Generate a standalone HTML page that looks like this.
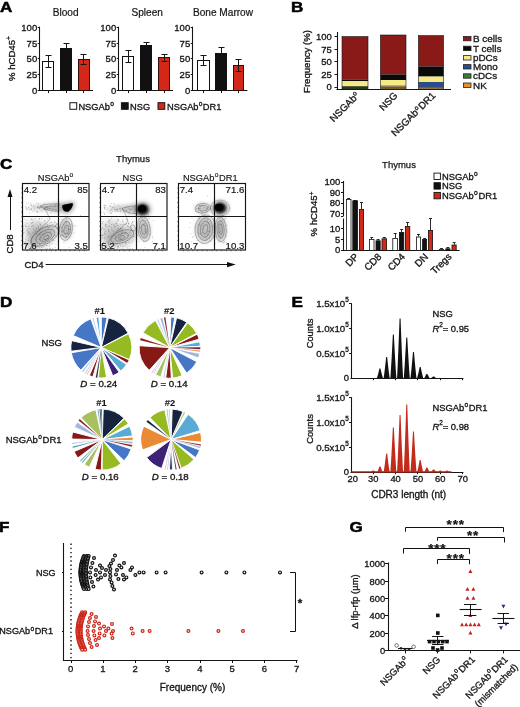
<!DOCTYPE html>
<html><head><meta charset="utf-8"><title>Figure</title>
<style>
html,body{margin:0;padding:0;background:#fff;}
svg{display:block;font-family:"Liberation Sans",Arial,Helvetica,sans-serif;}
</style></head><body>
<svg width="520" height="707" viewBox="0 0 520 707">
<defs>
<filter id="bl05" x="-50%" y="-50%" width="200%" height="200%"><feGaussianBlur stdDeviation="0.6"/></filter>
<filter id="bl1" x="-50%" y="-50%" width="200%" height="200%"><feGaussianBlur stdDeviation="1.1"/></filter>
<filter id="bl2" x="-50%" y="-50%" width="200%" height="200%"><feGaussianBlur stdDeviation="2"/></filter>
<filter id="bl3" x="-50%" y="-50%" width="200%" height="200%"><feGaussianBlur stdDeviation="3.2"/></filter>
</defs>
<rect width="520" height="707" fill="#fff"/>
<text transform="translate(0 12.1) scale(1.17 1)" font-size="14.6" font-weight="bold" fill="#000" stroke="#000" stroke-width="0.5">A</text>
<line x1="39.5" y1="26.7" x2="39.5" y2="91.0" stroke="#151515" stroke-width="1.1"/>
<line x1="39.0" y1="90.5" x2="93" y2="90.5" stroke="#151515" stroke-width="1.1"/>
<line x1="37.7" y1="90.5" x2="39.5" y2="90.5" stroke="#151515" stroke-width="1"/>
<text x="37.2" y="94.0" font-size="9.5" text-anchor="end" font-weight="normal" fill="#151515" stroke="#151515" stroke-width="0.32">0</text>
<line x1="37.7" y1="74.5" x2="39.5" y2="74.5" stroke="#151515" stroke-width="1"/>
<text x="37.2" y="78.175" font-size="9.5" text-anchor="end" font-weight="normal" fill="#151515" stroke="#151515" stroke-width="0.32">25</text>
<line x1="37.7" y1="58.5" x2="39.5" y2="58.5" stroke="#151515" stroke-width="1"/>
<text x="37.2" y="62.349999999999994" font-size="9.5" text-anchor="end" font-weight="normal" fill="#151515" stroke="#151515" stroke-width="0.32">50</text>
<line x1="37.7" y1="43.5" x2="39.5" y2="43.5" stroke="#151515" stroke-width="1"/>
<text x="37.2" y="46.52499999999999" font-size="9.5" text-anchor="end" font-weight="normal" fill="#151515" stroke="#151515" stroke-width="0.32">75</text>
<line x1="37.7" y1="27.5" x2="39.5" y2="27.5" stroke="#151515" stroke-width="1"/>
<text x="37.2" y="30.699999999999996" font-size="9.5" text-anchor="end" font-weight="normal" fill="#151515" stroke="#151515" stroke-width="0.32">100</text>
<text x="65.7" y="16" font-size="10.1" text-anchor="middle" font-weight="normal" fill="#151515" stroke="#151515" stroke-width="0.2">Blood</text>
<line x1="48.5" y1="55.5" x2="48.5" y2="61.5" stroke="#151515" stroke-width="1"/>
<line x1="45.5" y1="55.5" x2="51.5" y2="55.5" stroke="#151515" stroke-width="1"/>
<rect x="42.50" y="61.50" width="11.00" height="29.00" fill="#fff" stroke="#111" stroke-width="1"/>
<line x1="48.5" y1="61.5" x2="48.5" y2="67.5" stroke="#151515" stroke-width="1"/>
<line x1="45.5" y1="67.5" x2="51.5" y2="67.5" stroke="#151515" stroke-width="1"/>
<line x1="48.5" y1="90.5" x2="48.5" y2="93.1" stroke="#151515" stroke-width="1"/>
<line x1="66.5" y1="43.5" x2="66.5" y2="48.5" stroke="#151515" stroke-width="1"/>
<line x1="63.5" y1="43.5" x2="69.5" y2="43.5" stroke="#151515" stroke-width="1"/>
<rect x="60.50" y="48.50" width="11.00" height="42.00" fill="#111" stroke="#111" stroke-width="1"/>
<line x1="66.5" y1="90.5" x2="66.5" y2="93.1" stroke="#151515" stroke-width="1"/>
<line x1="83.5" y1="54.5" x2="83.5" y2="59.5" stroke="#151515" stroke-width="1"/>
<line x1="80.5" y1="54.5" x2="86.5" y2="54.5" stroke="#151515" stroke-width="1"/>
<rect x="78.50" y="59.50" width="11.00" height="31.00" fill="#d32818" stroke="#3a0a06" stroke-width="1"/>
<line x1="83.5" y1="59.5" x2="83.5" y2="64.5" stroke="#151515" stroke-width="1"/>
<line x1="80.5" y1="64.5" x2="86.5" y2="64.5" stroke="#151515" stroke-width="1"/>
<line x1="83.5" y1="90.5" x2="83.5" y2="93.1" stroke="#151515" stroke-width="1"/>
<line x1="118.5" y1="26.7" x2="118.5" y2="91.0" stroke="#151515" stroke-width="1.1"/>
<line x1="118.0" y1="90.5" x2="173" y2="90.5" stroke="#151515" stroke-width="1.1"/>
<line x1="116.7" y1="90.5" x2="118.5" y2="90.5" stroke="#151515" stroke-width="1"/>
<text x="116.2" y="94.0" font-size="9.5" text-anchor="end" font-weight="normal" fill="#151515" stroke="#151515" stroke-width="0.32">0</text>
<line x1="116.7" y1="74.5" x2="118.5" y2="74.5" stroke="#151515" stroke-width="1"/>
<text x="116.2" y="78.175" font-size="9.5" text-anchor="end" font-weight="normal" fill="#151515" stroke="#151515" stroke-width="0.32">25</text>
<line x1="116.7" y1="58.5" x2="118.5" y2="58.5" stroke="#151515" stroke-width="1"/>
<text x="116.2" y="62.349999999999994" font-size="9.5" text-anchor="end" font-weight="normal" fill="#151515" stroke="#151515" stroke-width="0.32">50</text>
<line x1="116.7" y1="43.5" x2="118.5" y2="43.5" stroke="#151515" stroke-width="1"/>
<text x="116.2" y="46.52499999999999" font-size="9.5" text-anchor="end" font-weight="normal" fill="#151515" stroke="#151515" stroke-width="0.32">75</text>
<line x1="116.7" y1="27.5" x2="118.5" y2="27.5" stroke="#151515" stroke-width="1"/>
<text x="116.2" y="30.699999999999996" font-size="9.5" text-anchor="end" font-weight="normal" fill="#151515" stroke="#151515" stroke-width="0.32">100</text>
<text x="147.2" y="16" font-size="10.1" text-anchor="middle" font-weight="normal" fill="#151515" stroke="#151515" stroke-width="0.2">Spleen</text>
<line x1="128.5" y1="50.5" x2="128.5" y2="56.5" stroke="#151515" stroke-width="1"/>
<line x1="125.5" y1="50.5" x2="131.5" y2="50.5" stroke="#151515" stroke-width="1"/>
<rect x="122.50" y="56.50" width="11.00" height="34.00" fill="#fff" stroke="#111" stroke-width="1"/>
<line x1="128.5" y1="56.5" x2="128.5" y2="62.5" stroke="#151515" stroke-width="1"/>
<line x1="125.5" y1="62.5" x2="131.5" y2="62.5" stroke="#151515" stroke-width="1"/>
<line x1="128.5" y1="90.5" x2="128.5" y2="93.1" stroke="#151515" stroke-width="1"/>
<line x1="146.5" y1="42.5" x2="146.5" y2="45.5" stroke="#151515" stroke-width="1"/>
<line x1="143.5" y1="42.5" x2="149.5" y2="42.5" stroke="#151515" stroke-width="1"/>
<rect x="140.50" y="45.50" width="11.00" height="45.00" fill="#111" stroke="#111" stroke-width="1"/>
<line x1="146.5" y1="90.5" x2="146.5" y2="93.1" stroke="#151515" stroke-width="1"/>
<line x1="164.5" y1="54.5" x2="164.5" y2="57.5" stroke="#151515" stroke-width="1"/>
<line x1="161.5" y1="54.5" x2="167.5" y2="54.5" stroke="#151515" stroke-width="1"/>
<rect x="158.50" y="57.50" width="11.00" height="33.00" fill="#d32818" stroke="#3a0a06" stroke-width="1"/>
<line x1="164.5" y1="57.5" x2="164.5" y2="61.5" stroke="#151515" stroke-width="1"/>
<line x1="161.5" y1="61.5" x2="167.5" y2="61.5" stroke="#151515" stroke-width="1"/>
<line x1="164.5" y1="90.5" x2="164.5" y2="93.1" stroke="#151515" stroke-width="1"/>
<line x1="192.5" y1="26.7" x2="192.5" y2="91.0" stroke="#151515" stroke-width="1.1"/>
<line x1="192.0" y1="90.5" x2="247.4" y2="90.5" stroke="#151515" stroke-width="1.1"/>
<line x1="190.7" y1="90.5" x2="192.5" y2="90.5" stroke="#151515" stroke-width="1"/>
<text x="190.2" y="94.0" font-size="9.5" text-anchor="end" font-weight="normal" fill="#151515" stroke="#151515" stroke-width="0.32">0</text>
<line x1="190.7" y1="74.5" x2="192.5" y2="74.5" stroke="#151515" stroke-width="1"/>
<text x="190.2" y="78.175" font-size="9.5" text-anchor="end" font-weight="normal" fill="#151515" stroke="#151515" stroke-width="0.32">25</text>
<line x1="190.7" y1="58.5" x2="192.5" y2="58.5" stroke="#151515" stroke-width="1"/>
<text x="190.2" y="62.349999999999994" font-size="9.5" text-anchor="end" font-weight="normal" fill="#151515" stroke="#151515" stroke-width="0.32">50</text>
<line x1="190.7" y1="43.5" x2="192.5" y2="43.5" stroke="#151515" stroke-width="1"/>
<text x="190.2" y="46.52499999999999" font-size="9.5" text-anchor="end" font-weight="normal" fill="#151515" stroke="#151515" stroke-width="0.32">75</text>
<line x1="190.7" y1="27.5" x2="192.5" y2="27.5" stroke="#151515" stroke-width="1"/>
<text x="190.2" y="30.699999999999996" font-size="9.5" text-anchor="end" font-weight="normal" fill="#151515" stroke="#151515" stroke-width="0.32">100</text>
<text x="223" y="16" font-size="10.1" text-anchor="middle" font-weight="normal" fill="#151515" stroke="#151515" stroke-width="0.2">Bone Marrow</text>
<line x1="203.5" y1="55.5" x2="203.5" y2="60.5" stroke="#151515" stroke-width="1"/>
<line x1="200.5" y1="55.5" x2="206.5" y2="55.5" stroke="#151515" stroke-width="1"/>
<rect x="197.50" y="60.50" width="12.00" height="30.00" fill="#fff" stroke="#111" stroke-width="1"/>
<line x1="203.5" y1="60.5" x2="203.5" y2="65.5" stroke="#151515" stroke-width="1"/>
<line x1="200.5" y1="65.5" x2="206.5" y2="65.5" stroke="#151515" stroke-width="1"/>
<line x1="203.5" y1="90.5" x2="203.5" y2="93.1" stroke="#151515" stroke-width="1"/>
<line x1="221.5" y1="47.5" x2="221.5" y2="53.5" stroke="#151515" stroke-width="1"/>
<line x1="218.5" y1="47.5" x2="224.5" y2="47.5" stroke="#151515" stroke-width="1"/>
<rect x="215.50" y="53.50" width="11.00" height="37.00" fill="#111" stroke="#111" stroke-width="1"/>
<line x1="221.5" y1="90.5" x2="221.5" y2="93.1" stroke="#151515" stroke-width="1"/>
<line x1="238.5" y1="59.5" x2="238.5" y2="65.5" stroke="#151515" stroke-width="1"/>
<line x1="235.5" y1="59.5" x2="241.5" y2="59.5" stroke="#151515" stroke-width="1"/>
<rect x="233.50" y="65.50" width="10.00" height="25.00" fill="#d32818" stroke="#3a0a06" stroke-width="1"/>
<line x1="238.5" y1="65.5" x2="238.5" y2="71.5" stroke="#151515" stroke-width="1"/>
<line x1="235.5" y1="71.5" x2="241.5" y2="71.5" stroke="#151515" stroke-width="1"/>
<line x1="238.5" y1="90.5" x2="238.5" y2="93.1" stroke="#151515" stroke-width="1"/>
<text x="14.8" y="58.5" font-size="9.6" text-anchor="middle" font-weight="normal" fill="#151515" stroke="#151515" stroke-width="0.32" transform="rotate(-90 14.8 58.5)">% hCD45<tspan dy="-3.6" font-size="6.5">+</tspan></text>
<rect x="69.90" y="102.70" width="6.80" height="6.60" fill="#fff" stroke="#151515" stroke-width="1"/>
<text x="78.4" y="109.5" font-size="9.3" text-anchor="start" font-weight="normal" fill="#151515" stroke="#151515" stroke-width="0.32">NSGAb<tspan dx="0.2" dy="-3.6" font-size="6.6">o</tspan><tspan dy="3.6" dx="0.6000000000000001" font-size="0.1"> </tspan></text>
<rect x="121.40" y="102.70" width="6.80" height="6.60" fill="#111" stroke="#151515" stroke-width="1"/>
<text x="130" y="109.5" font-size="9.3" text-anchor="start" font-weight="normal" fill="#151515" stroke="#151515" stroke-width="0.32">NSG</text>
<rect x="158.00" y="102.70" width="6.80" height="6.60" fill="#d32818" stroke="#151515" stroke-width="1"/>
<text x="167" y="109.5" font-size="9.3" text-anchor="start" font-weight="normal" fill="#151515" stroke="#151515" stroke-width="0.32">NSGAb<tspan dx="0.1" dy="-3.6" font-size="6.6">o</tspan><tspan dy="3.6" dx="0.5" font-size="0.1"> </tspan>DR1</text>
<text transform="translate(291 12.1) scale(1.17 1)" font-size="14.6" font-weight="bold" fill="#000" stroke="#000" stroke-width="0.5">B</text>
<line x1="337.5" y1="32" x2="337.5" y2="90.1" stroke="#151515" stroke-width="1.1"/>
<line x1="336.5" y1="89.5" x2="451" y2="89.5" stroke="#151515" stroke-width="1.1"/>
<line x1="334.5" y1="87.5" x2="337" y2="87.5" stroke="#151515" stroke-width="1"/>
<text x="331.8" y="90.4" font-size="9.5" text-anchor="end" font-weight="normal" fill="#151515" stroke="#151515" stroke-width="0.32">0</text>
<line x1="334.5" y1="74.5" x2="337" y2="74.5" stroke="#151515" stroke-width="1"/>
<text x="331.8" y="77.80000000000001" font-size="9.5" text-anchor="end" font-weight="normal" fill="#151515" stroke="#151515" stroke-width="0.32">25</text>
<line x1="334.5" y1="61.5" x2="337" y2="61.5" stroke="#151515" stroke-width="1"/>
<text x="331.8" y="65.2" font-size="9.5" text-anchor="end" font-weight="normal" fill="#151515" stroke="#151515" stroke-width="0.32">50</text>
<line x1="334.5" y1="49.5" x2="337" y2="49.5" stroke="#151515" stroke-width="1"/>
<text x="331.8" y="52.6" font-size="9.5" text-anchor="end" font-weight="normal" fill="#151515" stroke="#151515" stroke-width="0.32">75</text>
<line x1="334.5" y1="36.5" x2="337" y2="36.5" stroke="#151515" stroke-width="1"/>
<text x="331.8" y="40.0" font-size="9.5" text-anchor="end" font-weight="normal" fill="#151515" stroke="#151515" stroke-width="0.32">100</text>
<text x="309.8" y="61.5" font-size="9.6" text-anchor="middle" font-weight="normal" fill="#151515" stroke="#151515" stroke-width="0.32" transform="rotate(-90 309.8 61.5)">Frequency (%)</text>
<rect x="342" y="36.6" width="26.00" height="43.20" fill="#8a1a18"/>
<rect x="342" y="79.8" width="26.00" height="1.40" fill="#0a0a0a"/>
<rect x="342" y="81.2" width="26.00" height="5.00" fill="#f5ea86"/>
<rect x="342" y="86.2" width="26.00" height="3.10" fill="#2c3a1c"/>
<rect x="342.00" y="36.60" width="26.00" height="52.70" fill="none" stroke="#151515" stroke-width="0.6"/>
<rect x="380.4" y="35" width="25.60" height="39.40" fill="#8a1a18"/>
<rect x="380.4" y="74.4" width="25.60" height="5.60" fill="#0a0a0a"/>
<rect x="380.4" y="80" width="25.60" height="5.60" fill="#f5ea86"/>
<rect x="380.4" y="85.6" width="25.60" height="0.80" fill="#2c4c8c"/>
<rect x="380.4" y="86.4" width="25.60" height="2.90" fill="#7a5a1c"/>
<rect x="380.40" y="35.00" width="25.60" height="54.30" fill="none" stroke="#151515" stroke-width="0.6"/>
<rect x="418.4" y="35.6" width="25.20" height="30.80" fill="#8a1a18"/>
<rect x="418.4" y="66.4" width="25.20" height="10.20" fill="#0a0a0a"/>
<rect x="418.4" y="76.6" width="25.20" height="5.40" fill="#f5ea86"/>
<rect x="418.4" y="82" width="25.20" height="5.00" fill="#2c4c8c"/>
<rect x="418.4" y="87" width="25.20" height="1.20" fill="#3c7a40"/>
<rect x="418.4" y="88.2" width="25.20" height="1.10" fill="#7a5a1c"/>
<rect x="418.40" y="35.60" width="25.20" height="53.70" fill="none" stroke="#151515" stroke-width="0.6"/>
<text x="360" y="96.19999999999999" font-size="9.8" text-anchor="end" font-weight="normal" fill="#151515" stroke="#151515" stroke-width="0.32" transform="rotate(-45 360 96.19999999999999)">NSGAb<tspan dx="0.2" dy="-3.6" font-size="6.6">o</tspan><tspan dy="3.6" dx="0.6000000000000001" font-size="0.1"> </tspan></text>
<text x="398.2" y="96.19999999999999" font-size="9.8" text-anchor="end" font-weight="normal" fill="#151515" stroke="#151515" stroke-width="0.32" transform="rotate(-45 398.2 96.19999999999999)">NSG</text>
<text x="436" y="96.19999999999999" font-size="9.8" text-anchor="end" font-weight="normal" fill="#151515" stroke="#151515" stroke-width="0.32" transform="rotate(-45 436 96.19999999999999)">NSGAb<tspan dx="0.3" dy="-3.6" font-size="6.6">o</tspan><tspan dy="3.6" dx="0.7" font-size="0.1"> </tspan>DR1</text>
<rect x="463.40" y="36.40" width="7.60" height="4.40" fill="#8a1a18" stroke="#222" stroke-width="0.8"/>
<text x="473" y="42.0" font-size="9.9" text-anchor="start" font-weight="normal" fill="#151515" stroke="#151515" stroke-width="0.32">B cells</text>
<rect x="463.40" y="46.20" width="7.60" height="4.40" fill="#0a0a0a" stroke="#222" stroke-width="0.8"/>
<text x="473" y="51.8" font-size="9.9" text-anchor="start" font-weight="normal" fill="#151515" stroke="#151515" stroke-width="0.32">T cells</text>
<rect x="463.40" y="55.60" width="7.60" height="4.40" fill="#f5ea86" stroke="#222" stroke-width="0.8"/>
<text x="473" y="61.199999999999996" font-size="9.9" text-anchor="start" font-weight="normal" fill="#151515" stroke="#151515" stroke-width="0.32">pDCs</text>
<rect x="463.40" y="64.60" width="7.60" height="4.40" fill="#2c4c8c" stroke="#222" stroke-width="0.8"/>
<text x="473" y="70.2" font-size="9.9" text-anchor="start" font-weight="normal" fill="#151515" stroke="#151515" stroke-width="0.32">Mono</text>
<rect x="463.40" y="73.80" width="7.60" height="4.40" fill="#3c7a40" stroke="#222" stroke-width="0.8"/>
<text x="473" y="79.4" font-size="9.9" text-anchor="start" font-weight="normal" fill="#151515" stroke="#151515" stroke-width="0.32">cDCs</text>
<rect x="463.40" y="83.00" width="7.60" height="4.40" fill="#e8902c" stroke="#222" stroke-width="0.8"/>
<text x="473" y="88.60000000000001" font-size="9.9" text-anchor="start" font-weight="normal" fill="#151515" stroke="#151515" stroke-width="0.32">NK</text>
<text transform="translate(0 168.5) scale(1.17 1)" font-size="14.6" font-weight="bold" fill="#000" stroke="#000" stroke-width="0.5">C</text>
<text x="133" y="162" font-size="9.5" text-anchor="middle" font-weight="normal" fill="#151515" stroke="#151515" stroke-width="0.25">Thymus</text>
<clipPath id="clip1"><rect x="22.5" y="183.5" width="66.5" height="66.5"/></clipPath>
<g clip-path="url(#clip1)">
<path d="M62 202.5 L25 207.5 L62 212.5 Z" fill="#777" opacity="0.5" filter="url(#bl2)"/>
<ellipse cx="42.0" cy="236.0" rx="17" ry="9.5" fill="#808080" opacity="0.55" filter="url(#bl3)" transform="rotate(-30 42.0 236.0)"/>
<ellipse cx="66.0" cy="229.0" rx="6" ry="11" fill="#808080" opacity="0.5" filter="url(#bl2)" transform="rotate(0 66.0 229.0)"/>
<ellipse cx="35.0" cy="230.0" rx="10" ry="10" fill="#909090" opacity="0.4" filter="url(#bl3)" transform="rotate(0 35.0 230.0)"/>
<path d="M60.5 205 Q61 203.6 64 203.2 L73.6 201.6 Q74.8 202 74.4 205.5 Q73 210.5 69 213 Q65 214 62.2 211.6 Q60 209 60.5 205 Z" fill="#555" opacity="0.55" filter="url(#bl2)"/>
<path d="M62.2 205.6 Q62.6 204.6 64.4 204.4 L72.4 203 Q73.2 203.4 72.8 205.6 Q71.6 209.6 68.6 211.4 Q65.4 212.2 63.6 210.4 Q61.8 208.6 62.2 205.6 Z" fill="#050505" filter="url(#bl05)"/>
<ellipse cx="46.3" cy="237.4" rx="3" ry="1.8" fill="none" stroke="#555" stroke-width="0.5" opacity="0.85" transform="rotate(-30 46.3 237.4)"/>
<ellipse cx="45.8" cy="236.9" rx="6.5" ry="3.6" fill="none" stroke="#555" stroke-width="0.5" opacity="0.85" transform="rotate(-30 45.8 236.9)"/>
<ellipse cx="45.3" cy="236.4" rx="10.5" ry="5.6" fill="none" stroke="#555" stroke-width="0.5" opacity="0.85" transform="rotate(-30 45.3 236.4)"/>
<ellipse cx="44.8" cy="235.9" rx="15" ry="8" fill="none" stroke="#555" stroke-width="0.5" opacity="0.85" transform="rotate(-30 44.8 235.9)"/>
<path d="M60 204 Q48 203 40.5 206 Q45 210.5 58 211.5" fill="none" stroke="#555" stroke-width="0.5" opacity="0.85"/>
<path d="M58 206 Q50 205.4 45.5 207 Q50 209.5 57.5 209.6" fill="none" stroke="#555" stroke-width="0.5" opacity="0.85"/>
<path d="M43.5 206.5 Q47 212 50 219 Q44 226 33 236 Q28 243 34 247" fill="none" stroke="#555" stroke-width="0.5" opacity="0.8"/>
<ellipse cx="66.4" cy="229.8" rx="2.4" ry="4.5" fill="none" stroke="#555" stroke-width="0.5" opacity="0.85" transform="rotate(8 66.4 229.8)"/>
<ellipse cx="66.2" cy="229.5" rx="4.3" ry="8" fill="none" stroke="#555" stroke-width="0.5" opacity="0.85" transform="rotate(8 66.2 229.5)"/>
<ellipse cx="66.0" cy="229.0" rx="6.3" ry="11.5" fill="none" stroke="#555" stroke-width="0.5" opacity="0.85" transform="rotate(8 66.0 229.0)"/>
<ellipse cx="57.5" cy="226.5" rx="1.6" ry="2.6" fill="none" stroke="#444" stroke-width="0.5" opacity="0.7" transform="rotate(-20 57.5 226.5)"/>
<rect x="36.3" y="210.9" width="0.7" height="0.7" fill="#444" opacity="0.55"/>
<rect x="43.8" y="207.8" width="0.7" height="0.7" fill="#444" opacity="0.55"/>
<rect x="26.3" y="207.5" width="0.7" height="0.7" fill="#444" opacity="0.55"/>
<rect x="39.9" y="206.7" width="0.7" height="0.7" fill="#444" opacity="0.55"/>
<rect x="47.0" y="207.8" width="0.7" height="0.7" fill="#444" opacity="0.55"/>
<rect x="59.2" y="210.6" width="0.7" height="0.7" fill="#444" opacity="0.55"/>
<rect x="30.0" y="209.4" width="0.7" height="0.7" fill="#444" opacity="0.55"/>
<rect x="31.3" y="204.7" width="0.7" height="0.7" fill="#444" opacity="0.55"/>
<rect x="44.2" y="208.1" width="0.7" height="0.7" fill="#444" opacity="0.55"/>
<rect x="48.8" y="207.6" width="0.7" height="0.7" fill="#444" opacity="0.55"/>
<rect x="40.9" y="210.7" width="0.7" height="0.7" fill="#444" opacity="0.55"/>
<rect x="33.5" y="205.2" width="0.7" height="0.7" fill="#444" opacity="0.55"/>
<rect x="50.5" y="212.8" width="0.7" height="0.7" fill="#444" opacity="0.55"/>
<rect x="39.6" y="206.3" width="0.7" height="0.7" fill="#444" opacity="0.55"/>
<rect x="26.4" y="203.4" width="0.7" height="0.7" fill="#444" opacity="0.55"/>
<rect x="55.6" y="210.0" width="0.7" height="0.7" fill="#444" opacity="0.55"/>
<rect x="45.3" y="206.8" width="0.7" height="0.7" fill="#444" opacity="0.55"/>
<rect x="41.6" y="206.7" width="0.7" height="0.7" fill="#444" opacity="0.55"/>
<rect x="47.6" y="209.2" width="0.7" height="0.7" fill="#444" opacity="0.55"/>
<rect x="38.5" y="207.0" width="0.7" height="0.7" fill="#444" opacity="0.55"/>
<rect x="30.9" y="208.3" width="0.7" height="0.7" fill="#444" opacity="0.55"/>
<rect x="29.5" y="209.7" width="0.7" height="0.7" fill="#444" opacity="0.55"/>
<rect x="27.8" y="207.2" width="0.7" height="0.7" fill="#444" opacity="0.55"/>
<rect x="53.7" y="206.7" width="0.7" height="0.7" fill="#444" opacity="0.55"/>
<rect x="37.6" y="205.7" width="0.7" height="0.7" fill="#444" opacity="0.55"/>
<rect x="31.2" y="209.2" width="0.7" height="0.7" fill="#444" opacity="0.55"/>
<rect x="45.6" y="207.7" width="0.7" height="0.7" fill="#444" opacity="0.55"/>
<rect x="37.9" y="203.0" width="0.7" height="0.7" fill="#444" opacity="0.55"/>
<rect x="43.0" y="204.2" width="0.7" height="0.7" fill="#444" opacity="0.55"/>
<rect x="56.5" y="203.5" width="0.7" height="0.7" fill="#444" opacity="0.55"/>
<rect x="38.7" y="207.7" width="0.7" height="0.7" fill="#444" opacity="0.55"/>
<rect x="27.2" y="208.7" width="0.7" height="0.7" fill="#444" opacity="0.55"/>
<rect x="36.9" y="207.5" width="0.7" height="0.7" fill="#444" opacity="0.55"/>
<rect x="28.6" y="207.7" width="0.7" height="0.7" fill="#444" opacity="0.55"/>
<rect x="46.5" y="209.3" width="0.7" height="0.7" fill="#444" opacity="0.55"/>
<rect x="37.7" y="211.9" width="0.7" height="0.7" fill="#444" opacity="0.55"/>
<rect x="41.3" y="207.2" width="0.7" height="0.7" fill="#444" opacity="0.55"/>
<rect x="37.0" y="211.4" width="0.7" height="0.7" fill="#444" opacity="0.55"/>
<rect x="25.8" y="207.9" width="0.7" height="0.7" fill="#444" opacity="0.55"/>
<rect x="44.0" y="209.2" width="0.7" height="0.7" fill="#444" opacity="0.55"/>
<rect x="55.2" y="205.6" width="0.7" height="0.7" fill="#444" opacity="0.55"/>
<rect x="30.8" y="205.0" width="0.7" height="0.7" fill="#444" opacity="0.55"/>
<rect x="36.5" y="211.8" width="0.7" height="0.7" fill="#444" opacity="0.55"/>
<rect x="54.8" y="204.3" width="0.7" height="0.7" fill="#444" opacity="0.55"/>
<rect x="32.9" y="206.3" width="0.7" height="0.7" fill="#444" opacity="0.55"/>
<rect x="26.0" y="209.0" width="0.7" height="0.7" fill="#444" opacity="0.55"/>
<rect x="58.5" y="207.0" width="0.7" height="0.7" fill="#444" opacity="0.55"/>
<rect x="58.4" y="208.2" width="0.7" height="0.7" fill="#444" opacity="0.55"/>
<rect x="31.9" y="210.8" width="0.7" height="0.7" fill="#444" opacity="0.55"/>
<rect x="54.4" y="206.5" width="0.7" height="0.7" fill="#444" opacity="0.55"/>
<rect x="28.0" y="202.2" width="0.7" height="0.7" fill="#444" opacity="0.55"/>
<rect x="51.3" y="207.1" width="0.7" height="0.7" fill="#444" opacity="0.55"/>
<rect x="36.6" y="202.8" width="0.7" height="0.7" fill="#444" opacity="0.55"/>
<rect x="39.0" y="207.9" width="0.7" height="0.7" fill="#444" opacity="0.55"/>
<rect x="29.4" y="212.6" width="0.7" height="0.7" fill="#444" opacity="0.55"/>
<rect x="30.1" y="203.3" width="0.7" height="0.7" fill="#444" opacity="0.55"/>
<rect x="37.3" y="206.6" width="0.7" height="0.7" fill="#444" opacity="0.55"/>
<rect x="59.0" y="204.6" width="0.7" height="0.7" fill="#444" opacity="0.55"/>
<rect x="40.2" y="205.8" width="0.7" height="0.7" fill="#444" opacity="0.55"/>
<rect x="33.8" y="208.9" width="0.7" height="0.7" fill="#444" opacity="0.55"/>
<rect x="34.1" y="207.6" width="0.7" height="0.7" fill="#444" opacity="0.55"/>
<rect x="37.4" y="207.0" width="0.7" height="0.7" fill="#444" opacity="0.55"/>
<rect x="39.7" y="207.2" width="0.7" height="0.7" fill="#444" opacity="0.55"/>
<rect x="43.3" y="208.8" width="0.7" height="0.7" fill="#444" opacity="0.55"/>
<rect x="25.1" y="206.4" width="0.7" height="0.7" fill="#444" opacity="0.55"/>
<rect x="50.4" y="206.0" width="0.7" height="0.7" fill="#444" opacity="0.55"/>
<rect x="44.4" y="206.6" width="0.7" height="0.7" fill="#444" opacity="0.55"/>
<rect x="33.7" y="210.9" width="0.7" height="0.7" fill="#444" opacity="0.55"/>
<rect x="44.7" y="202.8" width="0.7" height="0.7" fill="#444" opacity="0.55"/>
<rect x="46.4" y="206.2" width="0.7" height="0.7" fill="#444" opacity="0.55"/>
<rect x="37.9" y="234.5" width="0.7" height="0.7" fill="#444" opacity="0.55"/>
<rect x="38.8" y="247.2" width="0.7" height="0.7" fill="#444" opacity="0.55"/>
<rect x="46.1" y="245.2" width="0.7" height="0.7" fill="#444" opacity="0.55"/>
<rect x="54.1" y="226.0" width="0.7" height="0.7" fill="#444" opacity="0.55"/>
<rect x="41.5" y="247.2" width="0.7" height="0.7" fill="#444" opacity="0.55"/>
<rect x="50.7" y="222.3" width="0.7" height="0.7" fill="#444" opacity="0.55"/>
<rect x="27.0" y="231.7" width="0.7" height="0.7" fill="#444" opacity="0.55"/>
<rect x="25.4" y="225.5" width="0.7" height="0.7" fill="#444" opacity="0.55"/>
<rect x="25.4" y="238.8" width="0.7" height="0.7" fill="#444" opacity="0.55"/>
<rect x="48.9" y="245.8" width="0.7" height="0.7" fill="#444" opacity="0.55"/>
<rect x="28.1" y="240.2" width="0.7" height="0.7" fill="#444" opacity="0.55"/>
<rect x="44.8" y="222.4" width="0.7" height="0.7" fill="#444" opacity="0.55"/>
<rect x="52.1" y="248.0" width="0.7" height="0.7" fill="#444" opacity="0.55"/>
<rect x="30.2" y="247.5" width="0.7" height="0.7" fill="#444" opacity="0.55"/>
<rect x="36.1" y="233.1" width="0.7" height="0.7" fill="#444" opacity="0.55"/>
<rect x="55.7" y="243.8" width="0.7" height="0.7" fill="#444" opacity="0.55"/>
<rect x="28.3" y="231.4" width="0.7" height="0.7" fill="#444" opacity="0.55"/>
<rect x="40.0" y="228.5" width="0.7" height="0.7" fill="#444" opacity="0.55"/>
<rect x="29.5" y="227.9" width="0.7" height="0.7" fill="#444" opacity="0.55"/>
<rect x="46.8" y="218.6" width="0.7" height="0.7" fill="#444" opacity="0.55"/>
<rect x="41.3" y="231.7" width="0.7" height="0.7" fill="#444" opacity="0.55"/>
<rect x="23.6" y="228.3" width="0.7" height="0.7" fill="#444" opacity="0.55"/>
<rect x="43.6" y="233.9" width="0.7" height="0.7" fill="#444" opacity="0.55"/>
<rect x="25.1" y="248.5" width="0.7" height="0.7" fill="#444" opacity="0.55"/>
<rect x="49.0" y="248.1" width="0.7" height="0.7" fill="#444" opacity="0.55"/>
<rect x="26.5" y="226.2" width="0.7" height="0.7" fill="#444" opacity="0.55"/>
<rect x="24.3" y="242.1" width="0.7" height="0.7" fill="#444" opacity="0.55"/>
<rect x="31.9" y="222.0" width="0.7" height="0.7" fill="#444" opacity="0.55"/>
<rect x="36.9" y="246.3" width="0.7" height="0.7" fill="#444" opacity="0.55"/>
<rect x="50.0" y="226.0" width="0.7" height="0.7" fill="#444" opacity="0.55"/>
<rect x="27.9" y="246.5" width="0.7" height="0.7" fill="#444" opacity="0.55"/>
<rect x="41.8" y="239.7" width="0.7" height="0.7" fill="#444" opacity="0.55"/>
<rect x="26.0" y="219.8" width="0.7" height="0.7" fill="#444" opacity="0.55"/>
<rect x="45.7" y="231.2" width="0.7" height="0.7" fill="#444" opacity="0.55"/>
<rect x="25.4" y="247.1" width="0.7" height="0.7" fill="#444" opacity="0.55"/>
<rect x="43.9" y="242.9" width="0.7" height="0.7" fill="#444" opacity="0.55"/>
<rect x="25.8" y="244.5" width="0.7" height="0.7" fill="#444" opacity="0.55"/>
<rect x="25.2" y="244.7" width="0.7" height="0.7" fill="#444" opacity="0.55"/>
<rect x="38.0" y="228.5" width="0.7" height="0.7" fill="#444" opacity="0.55"/>
<rect x="41.3" y="246.7" width="0.7" height="0.7" fill="#444" opacity="0.55"/>
<rect x="31.8" y="222.0" width="0.7" height="0.7" fill="#444" opacity="0.55"/>
<rect x="40.4" y="225.4" width="0.7" height="0.7" fill="#444" opacity="0.55"/>
<rect x="26.6" y="223.0" width="0.7" height="0.7" fill="#444" opacity="0.55"/>
<rect x="24.7" y="224.3" width="0.7" height="0.7" fill="#444" opacity="0.55"/>
<rect x="33.3" y="227.5" width="0.7" height="0.7" fill="#444" opacity="0.55"/>
<rect x="48.1" y="227.0" width="0.7" height="0.7" fill="#444" opacity="0.55"/>
<rect x="39.5" y="223.5" width="0.7" height="0.7" fill="#444" opacity="0.55"/>
<rect x="34.5" y="218.6" width="0.7" height="0.7" fill="#444" opacity="0.55"/>
<rect x="31.3" y="218.5" width="0.7" height="0.7" fill="#444" opacity="0.55"/>
<rect x="47.2" y="235.1" width="0.7" height="0.7" fill="#444" opacity="0.55"/>
<rect x="29.3" y="232.7" width="0.7" height="0.7" fill="#444" opacity="0.55"/>
<rect x="53.8" y="221.3" width="0.7" height="0.7" fill="#444" opacity="0.55"/>
<rect x="50.0" y="231.4" width="0.7" height="0.7" fill="#444" opacity="0.55"/>
<rect x="39.3" y="243.9" width="0.7" height="0.7" fill="#444" opacity="0.55"/>
<rect x="36.0" y="233.7" width="0.7" height="0.7" fill="#444" opacity="0.55"/>
<rect x="45.7" y="248.5" width="0.7" height="0.7" fill="#444" opacity="0.55"/>
<rect x="34.3" y="243.8" width="0.7" height="0.7" fill="#444" opacity="0.55"/>
<rect x="46.3" y="237.7" width="0.7" height="0.7" fill="#444" opacity="0.55"/>
<rect x="36.4" y="228.8" width="0.7" height="0.7" fill="#444" opacity="0.55"/>
<rect x="24.8" y="222.0" width="0.7" height="0.7" fill="#444" opacity="0.55"/>
<rect x="25.3" y="241.0" width="0.7" height="0.7" fill="#444" opacity="0.55"/>
<rect x="31.4" y="223.1" width="0.7" height="0.7" fill="#444" opacity="0.55"/>
<rect x="25.8" y="244.1" width="0.7" height="0.7" fill="#444" opacity="0.55"/>
<rect x="51.7" y="238.8" width="0.7" height="0.7" fill="#444" opacity="0.55"/>
<rect x="32.3" y="225.5" width="0.7" height="0.7" fill="#444" opacity="0.55"/>
<rect x="32.7" y="232.2" width="0.7" height="0.7" fill="#444" opacity="0.55"/>
<rect x="28.2" y="231.8" width="0.7" height="0.7" fill="#444" opacity="0.55"/>
<rect x="31.7" y="247.8" width="0.7" height="0.7" fill="#444" opacity="0.55"/>
<rect x="55.1" y="235.0" width="0.7" height="0.7" fill="#444" opacity="0.55"/>
<rect x="31.1" y="247.9" width="0.7" height="0.7" fill="#444" opacity="0.55"/>
<rect x="33.2" y="229.1" width="0.7" height="0.7" fill="#444" opacity="0.55"/>
<rect x="23.0" y="229.8" width="0.7" height="0.7" fill="#444" opacity="0.55"/>
<rect x="38.7" y="233.6" width="0.7" height="0.7" fill="#444" opacity="0.55"/>
<rect x="29.6" y="233.6" width="0.7" height="0.7" fill="#444" opacity="0.55"/>
<rect x="23.2" y="226.2" width="0.7" height="0.7" fill="#444" opacity="0.55"/>
<rect x="26.0" y="230.4" width="0.7" height="0.7" fill="#444" opacity="0.55"/>
<rect x="24.4" y="218.7" width="0.7" height="0.7" fill="#444" opacity="0.55"/>
<rect x="33.0" y="225.2" width="0.7" height="0.7" fill="#444" opacity="0.55"/>
<rect x="42.3" y="234.4" width="0.7" height="0.7" fill="#444" opacity="0.55"/>
<rect x="47.8" y="238.4" width="0.7" height="0.7" fill="#444" opacity="0.55"/>
<rect x="46.6" y="245.3" width="0.7" height="0.7" fill="#444" opacity="0.55"/>
<rect x="35.9" y="228.1" width="0.7" height="0.7" fill="#444" opacity="0.55"/>
<rect x="55.5" y="222.6" width="0.7" height="0.7" fill="#444" opacity="0.55"/>
<rect x="46.9" y="237.9" width="0.7" height="0.7" fill="#444" opacity="0.55"/>
<rect x="24.4" y="243.9" width="0.7" height="0.7" fill="#444" opacity="0.55"/>
<rect x="52.4" y="237.4" width="0.7" height="0.7" fill="#444" opacity="0.55"/>
<rect x="47.2" y="243.2" width="0.7" height="0.7" fill="#444" opacity="0.55"/>
<rect x="27.6" y="234.2" width="0.7" height="0.7" fill="#444" opacity="0.55"/>
<rect x="39.6" y="243.9" width="0.7" height="0.7" fill="#444" opacity="0.55"/>
<rect x="49.6" y="243.6" width="0.7" height="0.7" fill="#444" opacity="0.55"/>
<rect x="42.3" y="245.7" width="0.7" height="0.7" fill="#444" opacity="0.55"/>
<rect x="45.5" y="239.5" width="0.7" height="0.7" fill="#444" opacity="0.55"/>
<rect x="30.6" y="219.0" width="0.7" height="0.7" fill="#444" opacity="0.55"/>
<rect x="27.4" y="229.2" width="0.7" height="0.7" fill="#444" opacity="0.55"/>
<rect x="26.5" y="243.9" width="0.7" height="0.7" fill="#444" opacity="0.55"/>
<rect x="41.4" y="237.5" width="0.7" height="0.7" fill="#444" opacity="0.55"/>
<rect x="43.7" y="239.1" width="0.7" height="0.7" fill="#444" opacity="0.55"/>
<rect x="39.1" y="218.1" width="0.7" height="0.7" fill="#444" opacity="0.55"/>
<rect x="49.3" y="241.2" width="0.7" height="0.7" fill="#444" opacity="0.55"/>
<rect x="39.6" y="234.6" width="0.7" height="0.7" fill="#444" opacity="0.55"/>
<rect x="44.8" y="220.0" width="0.7" height="0.7" fill="#444" opacity="0.55"/>
<rect x="47.3" y="225.8" width="0.7" height="0.7" fill="#444" opacity="0.55"/>
<rect x="25.5" y="226.2" width="0.7" height="0.7" fill="#444" opacity="0.55"/>
<rect x="47.1" y="224.4" width="0.7" height="0.7" fill="#444" opacity="0.55"/>
<rect x="47.4" y="248.2" width="0.7" height="0.7" fill="#444" opacity="0.55"/>
<rect x="39.3" y="229.9" width="0.7" height="0.7" fill="#444" opacity="0.55"/>
<rect x="38.8" y="239.2" width="0.7" height="0.7" fill="#444" opacity="0.55"/>
<rect x="48.3" y="237.1" width="0.7" height="0.7" fill="#444" opacity="0.55"/>
<rect x="44.2" y="220.4" width="0.7" height="0.7" fill="#444" opacity="0.55"/>
<rect x="27.9" y="225.9" width="0.7" height="0.7" fill="#444" opacity="0.55"/>
<rect x="47.5" y="227.4" width="0.7" height="0.7" fill="#444" opacity="0.55"/>
<rect x="41.7" y="218.4" width="0.7" height="0.7" fill="#444" opacity="0.55"/>
<rect x="25.0" y="226.3" width="0.7" height="0.7" fill="#444" opacity="0.55"/>
<rect x="45.2" y="239.5" width="0.7" height="0.7" fill="#444" opacity="0.55"/>
<rect x="45.3" y="227.0" width="0.7" height="0.7" fill="#444" opacity="0.55"/>
<rect x="40.0" y="232.4" width="0.7" height="0.7" fill="#444" opacity="0.55"/>
<rect x="38.4" y="221.7" width="0.7" height="0.7" fill="#444" opacity="0.55"/>
<rect x="52.5" y="224.2" width="0.7" height="0.7" fill="#444" opacity="0.55"/>
<rect x="55.3" y="247.0" width="0.7" height="0.7" fill="#444" opacity="0.55"/>
<rect x="23.6" y="232.2" width="0.7" height="0.7" fill="#444" opacity="0.55"/>
<rect x="50.1" y="248.0" width="0.7" height="0.7" fill="#444" opacity="0.55"/>
<rect x="37.8" y="226.3" width="0.7" height="0.7" fill="#444" opacity="0.55"/>
<rect x="29.9" y="247.3" width="0.7" height="0.7" fill="#444" opacity="0.55"/>
<rect x="30.0" y="236.0" width="0.7" height="0.7" fill="#444" opacity="0.55"/>
<rect x="27.7" y="234.2" width="0.7" height="0.7" fill="#444" opacity="0.55"/>
<rect x="54.4" y="222.1" width="0.7" height="0.7" fill="#444" opacity="0.55"/>
<rect x="50.1" y="233.8" width="0.7" height="0.7" fill="#444" opacity="0.55"/>
<rect x="52.3" y="239.8" width="0.7" height="0.7" fill="#444" opacity="0.55"/>
<rect x="30.6" y="245.8" width="0.7" height="0.7" fill="#444" opacity="0.55"/>
<rect x="39.0" y="218.8" width="0.7" height="0.7" fill="#444" opacity="0.55"/>
<rect x="23.1" y="233.2" width="0.7" height="0.7" fill="#444" opacity="0.55"/>
<rect x="37.9" y="227.4" width="0.7" height="0.7" fill="#444" opacity="0.55"/>
<rect x="27.6" y="228.7" width="0.7" height="0.7" fill="#444" opacity="0.55"/>
<rect x="33.4" y="244.0" width="0.7" height="0.7" fill="#444" opacity="0.55"/>
<rect x="23.1" y="241.3" width="0.7" height="0.7" fill="#444" opacity="0.55"/>
<rect x="50.7" y="221.7" width="0.7" height="0.7" fill="#444" opacity="0.55"/>
<rect x="53.6" y="240.1" width="0.7" height="0.7" fill="#444" opacity="0.55"/>
<rect x="52.8" y="227.0" width="0.7" height="0.7" fill="#444" opacity="0.55"/>
<rect x="35.3" y="230.2" width="0.7" height="0.7" fill="#444" opacity="0.55"/>
<rect x="56.0" y="236.3" width="0.7" height="0.7" fill="#444" opacity="0.55"/>
<rect x="34.9" y="231.3" width="0.7" height="0.7" fill="#444" opacity="0.55"/>
<rect x="32.1" y="219.5" width="0.7" height="0.7" fill="#444" opacity="0.55"/>
<rect x="26.4" y="243.9" width="0.7" height="0.7" fill="#444" opacity="0.55"/>
<rect x="32.4" y="247.0" width="0.7" height="0.7" fill="#444" opacity="0.55"/>
<rect x="31.2" y="226.2" width="0.7" height="0.7" fill="#444" opacity="0.55"/>
<rect x="39.9" y="223.9" width="0.7" height="0.7" fill="#444" opacity="0.55"/>
<rect x="35.3" y="247.6" width="0.7" height="0.7" fill="#444" opacity="0.55"/>
<rect x="52.2" y="243.2" width="0.7" height="0.7" fill="#444" opacity="0.55"/>
<rect x="43.8" y="246.3" width="0.7" height="0.7" fill="#444" opacity="0.55"/>
<rect x="54.0" y="235.0" width="0.7" height="0.7" fill="#444" opacity="0.55"/>
<rect x="65.7" y="227.5" width="0.7" height="0.7" fill="#444" opacity="0.55"/>
<rect x="65.4" y="221.3" width="0.7" height="0.7" fill="#444" opacity="0.55"/>
<rect x="66.1" y="218.5" width="0.7" height="0.7" fill="#444" opacity="0.55"/>
<rect x="65.6" y="232.5" width="0.7" height="0.7" fill="#444" opacity="0.55"/>
<rect x="68.3" y="228.1" width="0.7" height="0.7" fill="#444" opacity="0.55"/>
<rect x="61.5" y="231.3" width="0.7" height="0.7" fill="#444" opacity="0.55"/>
<rect x="63.6" y="242.5" width="0.7" height="0.7" fill="#444" opacity="0.55"/>
<rect x="69.8" y="229.1" width="0.7" height="0.7" fill="#444" opacity="0.55"/>
<rect x="63.6" y="224.4" width="0.7" height="0.7" fill="#444" opacity="0.55"/>
<rect x="61.3" y="227.2" width="0.7" height="0.7" fill="#444" opacity="0.55"/>
<rect x="67.5" y="234.1" width="0.7" height="0.7" fill="#444" opacity="0.55"/>
<rect x="68.8" y="246.8" width="0.7" height="0.7" fill="#444" opacity="0.55"/>
<rect x="62.5" y="230.1" width="0.7" height="0.7" fill="#444" opacity="0.55"/>
<rect x="80.0" y="215.1" width="0.7" height="0.7" fill="#444" opacity="0.55"/>
<rect x="63.4" y="231.4" width="0.7" height="0.7" fill="#444" opacity="0.55"/>
<rect x="66.8" y="233.3" width="0.7" height="0.7" fill="#444" opacity="0.55"/>
<rect x="64.8" y="232.9" width="0.7" height="0.7" fill="#444" opacity="0.55"/>
<rect x="66.3" y="236.2" width="0.7" height="0.7" fill="#444" opacity="0.55"/>
<rect x="56.5" y="222.9" width="0.7" height="0.7" fill="#444" opacity="0.55"/>
<rect x="66.0" y="221.7" width="0.7" height="0.7" fill="#444" opacity="0.55"/>
<rect x="60.8" y="235.0" width="0.7" height="0.7" fill="#444" opacity="0.55"/>
<rect x="62.8" y="235.1" width="0.7" height="0.7" fill="#444" opacity="0.55"/>
<rect x="69.7" y="232.5" width="0.7" height="0.7" fill="#444" opacity="0.55"/>
<rect x="68.5" y="229.2" width="0.7" height="0.7" fill="#444" opacity="0.55"/>
<rect x="59.0" y="229.8" width="0.7" height="0.7" fill="#444" opacity="0.55"/>
<rect x="68.3" y="225.8" width="0.7" height="0.7" fill="#444" opacity="0.55"/>
<rect x="65.5" y="236.0" width="0.7" height="0.7" fill="#444" opacity="0.55"/>
<rect x="61.6" y="235.1" width="0.7" height="0.7" fill="#444" opacity="0.55"/>
<rect x="75.3" y="225.6" width="0.7" height="0.7" fill="#444" opacity="0.55"/>
<rect x="66.7" y="228.8" width="0.7" height="0.7" fill="#444" opacity="0.55"/>
<rect x="73.7" y="232.5" width="0.7" height="0.7" fill="#444" opacity="0.55"/>
<rect x="70.5" y="224.5" width="0.7" height="0.7" fill="#444" opacity="0.55"/>
<rect x="65.9" y="229.9" width="0.7" height="0.7" fill="#444" opacity="0.55"/>
<rect x="57.1" y="241.5" width="0.7" height="0.7" fill="#444" opacity="0.55"/>
<rect x="70.5" y="216.0" width="0.7" height="0.7" fill="#444" opacity="0.55"/>
<rect x="69.7" y="229.0" width="0.7" height="0.7" fill="#444" opacity="0.55"/>
<rect x="68.2" y="232.9" width="0.7" height="0.7" fill="#444" opacity="0.55"/>
<rect x="58.5" y="228.3" width="0.7" height="0.7" fill="#444" opacity="0.55"/>
<rect x="73.5" y="225.4" width="0.7" height="0.7" fill="#444" opacity="0.55"/>
<rect x="60.9" y="219.1" width="0.7" height="0.7" fill="#444" opacity="0.55"/>
</g>
<rect x="22.50" y="183.50" width="66.50" height="66.50" fill="none" stroke="#151515" stroke-width="1.15"/>
<line x1="58.5" y1="183.5" x2="58.5" y2="250" stroke="#151515" stroke-width="1.15"/>
<line x1="22.5" y1="216.5" x2="89" y2="216.5" stroke="#151515" stroke-width="1.15"/>
<line x1="21.2" y1="188.25" x2="22.5" y2="188.25" stroke="#151515" stroke-width="0.5"/>
<line x1="27.25" y1="250" x2="27.25" y2="251.3" stroke="#151515" stroke-width="0.5"/>
<line x1="21.2" y1="193.0" x2="22.5" y2="193.0" stroke="#151515" stroke-width="0.5"/>
<line x1="32.0" y1="250" x2="32.0" y2="251.3" stroke="#151515" stroke-width="0.5"/>
<line x1="21.2" y1="197.75" x2="22.5" y2="197.75" stroke="#151515" stroke-width="0.5"/>
<line x1="36.75" y1="250" x2="36.75" y2="251.3" stroke="#151515" stroke-width="0.5"/>
<line x1="21.2" y1="202.5" x2="22.5" y2="202.5" stroke="#151515" stroke-width="0.5"/>
<line x1="41.5" y1="250" x2="41.5" y2="251.3" stroke="#151515" stroke-width="0.5"/>
<line x1="21.2" y1="207.25" x2="22.5" y2="207.25" stroke="#151515" stroke-width="0.5"/>
<line x1="46.25" y1="250" x2="46.25" y2="251.3" stroke="#151515" stroke-width="0.5"/>
<line x1="21.2" y1="212.0" x2="22.5" y2="212.0" stroke="#151515" stroke-width="0.5"/>
<line x1="51.0" y1="250" x2="51.0" y2="251.3" stroke="#151515" stroke-width="0.5"/>
<line x1="21.2" y1="216.75" x2="22.5" y2="216.75" stroke="#151515" stroke-width="0.5"/>
<line x1="55.75" y1="250" x2="55.75" y2="251.3" stroke="#151515" stroke-width="0.5"/>
<line x1="21.2" y1="221.5" x2="22.5" y2="221.5" stroke="#151515" stroke-width="0.5"/>
<line x1="60.5" y1="250" x2="60.5" y2="251.3" stroke="#151515" stroke-width="0.5"/>
<line x1="21.2" y1="226.25" x2="22.5" y2="226.25" stroke="#151515" stroke-width="0.5"/>
<line x1="65.25" y1="250" x2="65.25" y2="251.3" stroke="#151515" stroke-width="0.5"/>
<line x1="21.2" y1="231.0" x2="22.5" y2="231.0" stroke="#151515" stroke-width="0.5"/>
<line x1="70.0" y1="250" x2="70.0" y2="251.3" stroke="#151515" stroke-width="0.5"/>
<line x1="21.2" y1="235.75" x2="22.5" y2="235.75" stroke="#151515" stroke-width="0.5"/>
<line x1="74.75" y1="250" x2="74.75" y2="251.3" stroke="#151515" stroke-width="0.5"/>
<line x1="21.2" y1="240.5" x2="22.5" y2="240.5" stroke="#151515" stroke-width="0.5"/>
<line x1="79.5" y1="250" x2="79.5" y2="251.3" stroke="#151515" stroke-width="0.5"/>
<line x1="21.2" y1="245.25" x2="22.5" y2="245.25" stroke="#151515" stroke-width="0.5"/>
<line x1="84.25" y1="250" x2="84.25" y2="251.3" stroke="#151515" stroke-width="0.5"/>
<text x="55.5" y="181" font-size="9.3" text-anchor="middle" font-weight="normal" fill="#151515" stroke="#151515" stroke-width="0.15">NSGAb<tspan dx="0.2" dy="-3.6" font-size="6.6">o</tspan><tspan dy="3.6" dx="0.6000000000000001" font-size="0.1"> </tspan></text>
<text x="23.7" y="192.8" font-size="9.6" text-anchor="start" font-weight="normal" fill="#151515" stroke="#151515" stroke-width="0.2">4.2</text>
<text x="87.8" y="192.8" font-size="9.6" text-anchor="end" font-weight="normal" fill="#151515" stroke="#151515" stroke-width="0.2">85</text>
<text x="23.3" y="248.6" font-size="9.6" text-anchor="start" font-weight="normal" fill="#151515" stroke="#151515" stroke-width="0.2">7.6</text>
<text x="87.8" y="248.6" font-size="9.6" text-anchor="end" font-weight="normal" fill="#151515" stroke="#151515" stroke-width="0.2">3.5</text>
<clipPath id="clip2"><rect x="100.5" y="183.5" width="66.5" height="66.5"/></clipPath>
<g clip-path="url(#clip2)">
<path d="M139 204 L103 208 L139 214 Z" fill="#777" opacity="0.5" filter="url(#bl2)"/>
<ellipse cx="120.0" cy="237.0" rx="18" ry="9" fill="#808080" opacity="0.5" filter="url(#bl3)" transform="rotate(-18 120.0 237.0)"/>
<ellipse cx="112.0" cy="230.0" rx="11" ry="10" fill="#909090" opacity="0.4" filter="url(#bl3)" transform="rotate(0 112.0 230.0)"/>
<ellipse cx="144.0" cy="229.0" rx="6" ry="11.5" fill="#808080" opacity="0.5" filter="url(#bl2)" transform="rotate(-6 144.0 229.0)"/>
<ellipse cx="142.6" cy="209.4" rx="8.5" ry="7.5" fill="#555" opacity="0.5" filter="url(#bl2)" transform="rotate(0 142.6 209.4)"/>
<ellipse cx="142.6" cy="209.4" rx="6" ry="5.6" fill="#1a1a1a" opacity="0.95" filter="url(#bl1)" transform="rotate(0 142.6 209.4)"/>
<ellipse cx="142.1" cy="208.8" rx="4.2" ry="3.8" fill="#000" opacity="1" filter="url(#bl05)" transform="rotate(0 142.1 208.8)"/>
<ellipse cx="121.5" cy="237.6" rx="3.2" ry="1.8" fill="none" stroke="#555" stroke-width="0.5" opacity="0.85" transform="rotate(-22 121.5 237.6)"/>
<ellipse cx="121.9" cy="237.1" rx="7" ry="3.4" fill="none" stroke="#555" stroke-width="0.5" opacity="0.85" transform="rotate(-22 121.9 237.1)"/>
<ellipse cx="122.3" cy="236.6" rx="12" ry="5.8" fill="none" stroke="#555" stroke-width="0.5" opacity="0.85" transform="rotate(-22 122.3 236.6)"/>
<path d="M137 206 Q128 205.5 122 208.5 Q126 213.5 136 213.6" fill="none" stroke="#555" stroke-width="0.5" opacity="0.85"/>
<path d="M122 208.5 Q126 214 128 221 Q122 228 112 236 Q106 243 110 248" fill="none" stroke="#555" stroke-width="0.5" opacity="0.8"/>
<ellipse cx="143.7" cy="229.5" rx="2.2" ry="5" fill="none" stroke="#555" stroke-width="0.5" opacity="0.85" transform="rotate(-8 143.7 229.5)"/>
<ellipse cx="143.7" cy="229.2" rx="4.2" ry="9" fill="none" stroke="#555" stroke-width="0.5" opacity="0.85" transform="rotate(-8 143.7 229.2)"/>
<ellipse cx="144.0" cy="229.0" rx="6.2" ry="12.5" fill="none" stroke="#555" stroke-width="0.5" opacity="0.85" transform="rotate(-8 144.0 229.0)"/>
<ellipse cx="133.0" cy="228.0" rx="2.2" ry="3.4" fill="none" stroke="#555" stroke-width="0.5" opacity="0.85" transform="rotate(-25 133.0 228.0)"/>
<rect x="119.0" y="208.4" width="0.7" height="0.7" fill="#444" opacity="0.55"/>
<rect x="130.4" y="208.8" width="0.7" height="0.7" fill="#444" opacity="0.55"/>
<rect x="111.1" y="212.0" width="0.7" height="0.7" fill="#444" opacity="0.55"/>
<rect x="113.6" y="207.3" width="0.7" height="0.7" fill="#444" opacity="0.55"/>
<rect x="107.5" y="209.0" width="0.7" height="0.7" fill="#444" opacity="0.55"/>
<rect x="127.5" y="212.4" width="0.7" height="0.7" fill="#444" opacity="0.55"/>
<rect x="106.9" y="211.6" width="0.7" height="0.7" fill="#444" opacity="0.55"/>
<rect x="123.4" y="210.3" width="0.7" height="0.7" fill="#444" opacity="0.55"/>
<rect x="116.6" y="209.5" width="0.7" height="0.7" fill="#444" opacity="0.55"/>
<rect x="103.4" y="212.2" width="0.7" height="0.7" fill="#444" opacity="0.55"/>
<rect x="113.6" y="203.1" width="0.7" height="0.7" fill="#444" opacity="0.55"/>
<rect x="125.6" y="210.5" width="0.7" height="0.7" fill="#444" opacity="0.55"/>
<rect x="133.9" y="207.3" width="0.7" height="0.7" fill="#444" opacity="0.55"/>
<rect x="111.6" y="209.3" width="0.7" height="0.7" fill="#444" opacity="0.55"/>
<rect x="136.6" y="208.4" width="0.7" height="0.7" fill="#444" opacity="0.55"/>
<rect x="103.8" y="207.0" width="0.7" height="0.7" fill="#444" opacity="0.55"/>
<rect x="120.4" y="207.9" width="0.7" height="0.7" fill="#444" opacity="0.55"/>
<rect x="112.0" y="206.8" width="0.7" height="0.7" fill="#444" opacity="0.55"/>
<rect x="126.4" y="210.5" width="0.7" height="0.7" fill="#444" opacity="0.55"/>
<rect x="104.2" y="208.2" width="0.7" height="0.7" fill="#444" opacity="0.55"/>
<rect x="114.8" y="205.8" width="0.7" height="0.7" fill="#444" opacity="0.55"/>
<rect x="109.9" y="210.7" width="0.7" height="0.7" fill="#444" opacity="0.55"/>
<rect x="130.9" y="208.8" width="0.7" height="0.7" fill="#444" opacity="0.55"/>
<rect x="110.2" y="206.2" width="0.7" height="0.7" fill="#444" opacity="0.55"/>
<rect x="136.9" y="207.3" width="0.7" height="0.7" fill="#444" opacity="0.55"/>
<rect x="111.1" y="213.1" width="0.7" height="0.7" fill="#444" opacity="0.55"/>
<rect x="110.8" y="209.1" width="0.7" height="0.7" fill="#444" opacity="0.55"/>
<rect x="136.3" y="207.0" width="0.7" height="0.7" fill="#444" opacity="0.55"/>
<rect x="120.4" y="209.7" width="0.7" height="0.7" fill="#444" opacity="0.55"/>
<rect x="117.6" y="210.6" width="0.7" height="0.7" fill="#444" opacity="0.55"/>
<rect x="126.3" y="210.3" width="0.7" height="0.7" fill="#444" opacity="0.55"/>
<rect x="116.8" y="208.6" width="0.7" height="0.7" fill="#444" opacity="0.55"/>
<rect x="110.5" y="210.3" width="0.7" height="0.7" fill="#444" opacity="0.55"/>
<rect x="104.8" y="208.8" width="0.7" height="0.7" fill="#444" opacity="0.55"/>
<rect x="105.1" y="205.0" width="0.7" height="0.7" fill="#444" opacity="0.55"/>
<rect x="133.9" y="212.2" width="0.7" height="0.7" fill="#444" opacity="0.55"/>
<rect x="128.6" y="214.6" width="0.7" height="0.7" fill="#444" opacity="0.55"/>
<rect x="114.5" y="208.9" width="0.7" height="0.7" fill="#444" opacity="0.55"/>
<rect x="109.5" y="212.7" width="0.7" height="0.7" fill="#444" opacity="0.55"/>
<rect x="104.1" y="207.4" width="0.7" height="0.7" fill="#444" opacity="0.55"/>
<rect x="126.3" y="207.3" width="0.7" height="0.7" fill="#444" opacity="0.55"/>
<rect x="114.6" y="210.6" width="0.7" height="0.7" fill="#444" opacity="0.55"/>
<rect x="108.9" y="210.9" width="0.7" height="0.7" fill="#444" opacity="0.55"/>
<rect x="115.3" y="209.0" width="0.7" height="0.7" fill="#444" opacity="0.55"/>
<rect x="136.4" y="213.4" width="0.7" height="0.7" fill="#444" opacity="0.55"/>
<rect x="110.3" y="213.3" width="0.7" height="0.7" fill="#444" opacity="0.55"/>
<rect x="115.5" y="210.9" width="0.7" height="0.7" fill="#444" opacity="0.55"/>
<rect x="118.1" y="205.0" width="0.7" height="0.7" fill="#444" opacity="0.55"/>
<rect x="104.7" y="206.7" width="0.7" height="0.7" fill="#444" opacity="0.55"/>
<rect x="135.2" y="209.4" width="0.7" height="0.7" fill="#444" opacity="0.55"/>
<rect x="109.8" y="205.6" width="0.7" height="0.7" fill="#444" opacity="0.55"/>
<rect x="104.1" y="212.9" width="0.7" height="0.7" fill="#444" opacity="0.55"/>
<rect x="117.4" y="210.6" width="0.7" height="0.7" fill="#444" opacity="0.55"/>
<rect x="104.4" y="205.2" width="0.7" height="0.7" fill="#444" opacity="0.55"/>
<rect x="104.2" y="214.0" width="0.7" height="0.7" fill="#444" opacity="0.55"/>
<rect x="112.0" y="211.1" width="0.7" height="0.7" fill="#444" opacity="0.55"/>
<rect x="129.2" y="210.8" width="0.7" height="0.7" fill="#444" opacity="0.55"/>
<rect x="112.5" y="207.7" width="0.7" height="0.7" fill="#444" opacity="0.55"/>
<rect x="136.5" y="207.6" width="0.7" height="0.7" fill="#444" opacity="0.55"/>
<rect x="128.1" y="207.7" width="0.7" height="0.7" fill="#444" opacity="0.55"/>
<rect x="114.1" y="209.0" width="0.7" height="0.7" fill="#444" opacity="0.55"/>
<rect x="129.4" y="209.2" width="0.7" height="0.7" fill="#444" opacity="0.55"/>
<rect x="135.1" y="205.2" width="0.7" height="0.7" fill="#444" opacity="0.55"/>
<rect x="103.8" y="204.7" width="0.7" height="0.7" fill="#444" opacity="0.55"/>
<rect x="111.2" y="203.1" width="0.7" height="0.7" fill="#444" opacity="0.55"/>
<rect x="136.4" y="209.9" width="0.7" height="0.7" fill="#444" opacity="0.55"/>
<rect x="116.5" y="209.0" width="0.7" height="0.7" fill="#444" opacity="0.55"/>
<rect x="120.3" y="211.5" width="0.7" height="0.7" fill="#444" opacity="0.55"/>
<rect x="135.5" y="210.8" width="0.7" height="0.7" fill="#444" opacity="0.55"/>
<rect x="128.8" y="212.9" width="0.7" height="0.7" fill="#444" opacity="0.55"/>
<rect x="128.2" y="242.0" width="0.7" height="0.7" fill="#444" opacity="0.55"/>
<rect x="121.0" y="228.2" width="0.7" height="0.7" fill="#444" opacity="0.55"/>
<rect x="111.5" y="229.2" width="0.7" height="0.7" fill="#444" opacity="0.55"/>
<rect x="126.8" y="220.4" width="0.7" height="0.7" fill="#444" opacity="0.55"/>
<rect x="107.5" y="241.3" width="0.7" height="0.7" fill="#444" opacity="0.55"/>
<rect x="109.2" y="220.0" width="0.7" height="0.7" fill="#444" opacity="0.55"/>
<rect x="102.1" y="235.1" width="0.7" height="0.7" fill="#444" opacity="0.55"/>
<rect x="111.8" y="248.4" width="0.7" height="0.7" fill="#444" opacity="0.55"/>
<rect x="130.2" y="248.6" width="0.7" height="0.7" fill="#444" opacity="0.55"/>
<rect x="109.7" y="220.6" width="0.7" height="0.7" fill="#444" opacity="0.55"/>
<rect x="104.2" y="233.5" width="0.7" height="0.7" fill="#444" opacity="0.55"/>
<rect x="124.4" y="231.9" width="0.7" height="0.7" fill="#444" opacity="0.55"/>
<rect x="108.7" y="230.9" width="0.7" height="0.7" fill="#444" opacity="0.55"/>
<rect x="121.5" y="238.9" width="0.7" height="0.7" fill="#444" opacity="0.55"/>
<rect x="125.7" y="244.3" width="0.7" height="0.7" fill="#444" opacity="0.55"/>
<rect x="122.9" y="221.8" width="0.7" height="0.7" fill="#444" opacity="0.55"/>
<rect x="128.7" y="227.1" width="0.7" height="0.7" fill="#444" opacity="0.55"/>
<rect x="119.7" y="229.6" width="0.7" height="0.7" fill="#444" opacity="0.55"/>
<rect x="125.4" y="224.2" width="0.7" height="0.7" fill="#444" opacity="0.55"/>
<rect x="109.2" y="225.6" width="0.7" height="0.7" fill="#444" opacity="0.55"/>
<rect x="106.1" y="245.4" width="0.7" height="0.7" fill="#444" opacity="0.55"/>
<rect x="120.1" y="228.1" width="0.7" height="0.7" fill="#444" opacity="0.55"/>
<rect x="114.1" y="248.8" width="0.7" height="0.7" fill="#444" opacity="0.55"/>
<rect x="117.7" y="225.2" width="0.7" height="0.7" fill="#444" opacity="0.55"/>
<rect x="127.7" y="238.3" width="0.7" height="0.7" fill="#444" opacity="0.55"/>
<rect x="133.7" y="221.2" width="0.7" height="0.7" fill="#444" opacity="0.55"/>
<rect x="116.7" y="243.4" width="0.7" height="0.7" fill="#444" opacity="0.55"/>
<rect x="128.7" y="246.3" width="0.7" height="0.7" fill="#444" opacity="0.55"/>
<rect x="102.3" y="227.1" width="0.7" height="0.7" fill="#444" opacity="0.55"/>
<rect x="104.9" y="223.9" width="0.7" height="0.7" fill="#444" opacity="0.55"/>
<rect x="133.1" y="236.1" width="0.7" height="0.7" fill="#444" opacity="0.55"/>
<rect x="131.7" y="229.5" width="0.7" height="0.7" fill="#444" opacity="0.55"/>
<rect x="129.6" y="231.9" width="0.7" height="0.7" fill="#444" opacity="0.55"/>
<rect x="109.6" y="242.1" width="0.7" height="0.7" fill="#444" opacity="0.55"/>
<rect x="132.2" y="221.3" width="0.7" height="0.7" fill="#444" opacity="0.55"/>
<rect x="120.7" y="237.2" width="0.7" height="0.7" fill="#444" opacity="0.55"/>
<rect x="108.2" y="229.4" width="0.7" height="0.7" fill="#444" opacity="0.55"/>
<rect x="105.7" y="224.3" width="0.7" height="0.7" fill="#444" opacity="0.55"/>
<rect x="109.4" y="236.6" width="0.7" height="0.7" fill="#444" opacity="0.55"/>
<rect x="122.5" y="224.3" width="0.7" height="0.7" fill="#444" opacity="0.55"/>
<rect x="101.4" y="228.1" width="0.7" height="0.7" fill="#444" opacity="0.55"/>
<rect x="123.4" y="223.7" width="0.7" height="0.7" fill="#444" opacity="0.55"/>
<rect x="111.3" y="224.3" width="0.7" height="0.7" fill="#444" opacity="0.55"/>
<rect x="127.2" y="235.0" width="0.7" height="0.7" fill="#444" opacity="0.55"/>
<rect x="103.1" y="221.1" width="0.7" height="0.7" fill="#444" opacity="0.55"/>
<rect x="114.0" y="235.1" width="0.7" height="0.7" fill="#444" opacity="0.55"/>
<rect x="122.1" y="220.8" width="0.7" height="0.7" fill="#444" opacity="0.55"/>
<rect x="106.4" y="239.6" width="0.7" height="0.7" fill="#444" opacity="0.55"/>
<rect x="114.5" y="226.8" width="0.7" height="0.7" fill="#444" opacity="0.55"/>
<rect x="111.2" y="247.5" width="0.7" height="0.7" fill="#444" opacity="0.55"/>
<rect x="111.3" y="235.6" width="0.7" height="0.7" fill="#444" opacity="0.55"/>
<rect x="112.8" y="230.9" width="0.7" height="0.7" fill="#444" opacity="0.55"/>
<rect x="129.5" y="248.9" width="0.7" height="0.7" fill="#444" opacity="0.55"/>
<rect x="113.0" y="224.1" width="0.7" height="0.7" fill="#444" opacity="0.55"/>
<rect x="125.0" y="224.3" width="0.7" height="0.7" fill="#444" opacity="0.55"/>
<rect x="101.2" y="246.0" width="0.7" height="0.7" fill="#444" opacity="0.55"/>
<rect x="115.0" y="243.4" width="0.7" height="0.7" fill="#444" opacity="0.55"/>
<rect x="114.4" y="245.4" width="0.7" height="0.7" fill="#444" opacity="0.55"/>
<rect x="116.2" y="223.0" width="0.7" height="0.7" fill="#444" opacity="0.55"/>
<rect x="101.5" y="235.1" width="0.7" height="0.7" fill="#444" opacity="0.55"/>
<rect x="122.1" y="246.2" width="0.7" height="0.7" fill="#444" opacity="0.55"/>
<rect x="103.9" y="237.3" width="0.7" height="0.7" fill="#444" opacity="0.55"/>
<rect x="113.2" y="233.6" width="0.7" height="0.7" fill="#444" opacity="0.55"/>
<rect x="105.8" y="226.8" width="0.7" height="0.7" fill="#444" opacity="0.55"/>
<rect x="118.2" y="246.7" width="0.7" height="0.7" fill="#444" opacity="0.55"/>
<rect x="104.6" y="233.2" width="0.7" height="0.7" fill="#444" opacity="0.55"/>
<rect x="127.6" y="248.0" width="0.7" height="0.7" fill="#444" opacity="0.55"/>
<rect x="107.5" y="221.9" width="0.7" height="0.7" fill="#444" opacity="0.55"/>
<rect x="132.1" y="248.2" width="0.7" height="0.7" fill="#444" opacity="0.55"/>
<rect x="116.9" y="219.7" width="0.7" height="0.7" fill="#444" opacity="0.55"/>
<rect x="131.6" y="230.0" width="0.7" height="0.7" fill="#444" opacity="0.55"/>
<rect x="130.8" y="237.2" width="0.7" height="0.7" fill="#444" opacity="0.55"/>
<rect x="128.2" y="223.0" width="0.7" height="0.7" fill="#444" opacity="0.55"/>
<rect x="126.9" y="224.9" width="0.7" height="0.7" fill="#444" opacity="0.55"/>
<rect x="114.3" y="244.2" width="0.7" height="0.7" fill="#444" opacity="0.55"/>
<rect x="128.4" y="223.7" width="0.7" height="0.7" fill="#444" opacity="0.55"/>
<rect x="108.2" y="230.4" width="0.7" height="0.7" fill="#444" opacity="0.55"/>
<rect x="118.1" y="229.9" width="0.7" height="0.7" fill="#444" opacity="0.55"/>
<rect x="105.1" y="225.7" width="0.7" height="0.7" fill="#444" opacity="0.55"/>
<rect x="124.9" y="245.8" width="0.7" height="0.7" fill="#444" opacity="0.55"/>
<rect x="102.4" y="235.4" width="0.7" height="0.7" fill="#444" opacity="0.55"/>
<rect x="126.0" y="219.2" width="0.7" height="0.7" fill="#444" opacity="0.55"/>
<rect x="128.7" y="221.6" width="0.7" height="0.7" fill="#444" opacity="0.55"/>
<rect x="120.8" y="235.1" width="0.7" height="0.7" fill="#444" opacity="0.55"/>
<rect x="121.7" y="227.5" width="0.7" height="0.7" fill="#444" opacity="0.55"/>
<rect x="114.9" y="236.1" width="0.7" height="0.7" fill="#444" opacity="0.55"/>
<rect x="115.0" y="238.4" width="0.7" height="0.7" fill="#444" opacity="0.55"/>
<rect x="115.7" y="231.6" width="0.7" height="0.7" fill="#444" opacity="0.55"/>
<rect x="101.8" y="237.2" width="0.7" height="0.7" fill="#444" opacity="0.55"/>
<rect x="117.2" y="225.3" width="0.7" height="0.7" fill="#444" opacity="0.55"/>
<rect x="126.2" y="242.2" width="0.7" height="0.7" fill="#444" opacity="0.55"/>
<rect x="116.1" y="223.6" width="0.7" height="0.7" fill="#444" opacity="0.55"/>
<rect x="116.6" y="221.3" width="0.7" height="0.7" fill="#444" opacity="0.55"/>
<rect x="105.2" y="231.3" width="0.7" height="0.7" fill="#444" opacity="0.55"/>
<rect x="104.0" y="231.7" width="0.7" height="0.7" fill="#444" opacity="0.55"/>
<rect x="117.8" y="219.3" width="0.7" height="0.7" fill="#444" opacity="0.55"/>
<rect x="122.0" y="220.5" width="0.7" height="0.7" fill="#444" opacity="0.55"/>
<rect x="125.2" y="242.1" width="0.7" height="0.7" fill="#444" opacity="0.55"/>
<rect x="117.9" y="219.7" width="0.7" height="0.7" fill="#444" opacity="0.55"/>
<rect x="117.6" y="229.7" width="0.7" height="0.7" fill="#444" opacity="0.55"/>
<rect x="132.4" y="222.2" width="0.7" height="0.7" fill="#444" opacity="0.55"/>
<rect x="129.3" y="248.9" width="0.7" height="0.7" fill="#444" opacity="0.55"/>
<rect x="125.2" y="243.3" width="0.7" height="0.7" fill="#444" opacity="0.55"/>
<rect x="107.4" y="248.4" width="0.7" height="0.7" fill="#444" opacity="0.55"/>
<rect x="117.2" y="247.7" width="0.7" height="0.7" fill="#444" opacity="0.55"/>
<rect x="131.2" y="223.1" width="0.7" height="0.7" fill="#444" opacity="0.55"/>
<rect x="127.0" y="246.8" width="0.7" height="0.7" fill="#444" opacity="0.55"/>
<rect x="103.2" y="228.9" width="0.7" height="0.7" fill="#444" opacity="0.55"/>
<rect x="126.0" y="222.9" width="0.7" height="0.7" fill="#444" opacity="0.55"/>
<rect x="130.6" y="226.5" width="0.7" height="0.7" fill="#444" opacity="0.55"/>
<rect x="127.9" y="222.5" width="0.7" height="0.7" fill="#444" opacity="0.55"/>
<rect x="117.6" y="246.5" width="0.7" height="0.7" fill="#444" opacity="0.55"/>
<rect x="107.9" y="226.1" width="0.7" height="0.7" fill="#444" opacity="0.55"/>
<rect x="117.7" y="227.9" width="0.7" height="0.7" fill="#444" opacity="0.55"/>
<rect x="102.2" y="223.6" width="0.7" height="0.7" fill="#444" opacity="0.55"/>
<rect x="106.3" y="247.0" width="0.7" height="0.7" fill="#444" opacity="0.55"/>
<rect x="123.4" y="245.8" width="0.7" height="0.7" fill="#444" opacity="0.55"/>
<rect x="106.6" y="242.3" width="0.7" height="0.7" fill="#444" opacity="0.55"/>
<rect x="104.8" y="234.5" width="0.7" height="0.7" fill="#444" opacity="0.55"/>
<rect x="122.0" y="229.2" width="0.7" height="0.7" fill="#444" opacity="0.55"/>
<rect x="129.8" y="235.2" width="0.7" height="0.7" fill="#444" opacity="0.55"/>
<rect x="120.1" y="245.4" width="0.7" height="0.7" fill="#444" opacity="0.55"/>
<rect x="104.5" y="248.8" width="0.7" height="0.7" fill="#444" opacity="0.55"/>
<rect x="121.8" y="230.2" width="0.7" height="0.7" fill="#444" opacity="0.55"/>
<rect x="127.3" y="226.2" width="0.7" height="0.7" fill="#444" opacity="0.55"/>
<rect x="133.7" y="235.9" width="0.7" height="0.7" fill="#444" opacity="0.55"/>
<rect x="112.9" y="241.7" width="0.7" height="0.7" fill="#444" opacity="0.55"/>
<rect x="115.6" y="223.5" width="0.7" height="0.7" fill="#444" opacity="0.55"/>
<rect x="125.5" y="219.5" width="0.7" height="0.7" fill="#444" opacity="0.55"/>
<rect x="128.1" y="225.9" width="0.7" height="0.7" fill="#444" opacity="0.55"/>
<rect x="122.1" y="248.5" width="0.7" height="0.7" fill="#444" opacity="0.55"/>
<rect x="120.3" y="238.6" width="0.7" height="0.7" fill="#444" opacity="0.55"/>
<rect x="111.3" y="218.1" width="0.7" height="0.7" fill="#444" opacity="0.55"/>
<rect x="102.1" y="222.6" width="0.7" height="0.7" fill="#444" opacity="0.55"/>
<rect x="121.3" y="231.4" width="0.7" height="0.7" fill="#444" opacity="0.55"/>
<rect x="117.9" y="245.8" width="0.7" height="0.7" fill="#444" opacity="0.55"/>
<rect x="105.4" y="225.0" width="0.7" height="0.7" fill="#444" opacity="0.55"/>
<rect x="122.6" y="218.7" width="0.7" height="0.7" fill="#444" opacity="0.55"/>
<rect x="101.1" y="229.0" width="0.7" height="0.7" fill="#444" opacity="0.55"/>
<rect x="104.5" y="229.1" width="0.7" height="0.7" fill="#444" opacity="0.55"/>
<rect x="108.4" y="236.1" width="0.7" height="0.7" fill="#444" opacity="0.55"/>
<rect x="120.4" y="224.3" width="0.7" height="0.7" fill="#444" opacity="0.55"/>
<rect x="121.6" y="232.7" width="0.7" height="0.7" fill="#444" opacity="0.55"/>
<rect x="105.4" y="247.0" width="0.7" height="0.7" fill="#444" opacity="0.55"/>
<rect x="109.0" y="222.6" width="0.7" height="0.7" fill="#444" opacity="0.55"/>
<rect x="104.2" y="237.8" width="0.7" height="0.7" fill="#444" opacity="0.55"/>
<rect x="129.8" y="242.2" width="0.7" height="0.7" fill="#444" opacity="0.55"/>
<rect x="114.3" y="226.2" width="0.7" height="0.7" fill="#444" opacity="0.55"/>
<rect x="101.4" y="238.0" width="0.7" height="0.7" fill="#444" opacity="0.55"/>
<rect x="119.6" y="228.9" width="0.7" height="0.7" fill="#444" opacity="0.55"/>
<rect x="122.3" y="231.8" width="0.7" height="0.7" fill="#444" opacity="0.55"/>
<rect x="131.9" y="240.7" width="0.7" height="0.7" fill="#444" opacity="0.55"/>
<rect x="109.2" y="246.0" width="0.7" height="0.7" fill="#444" opacity="0.55"/>
<rect x="102.5" y="234.5" width="0.7" height="0.7" fill="#444" opacity="0.55"/>
<rect x="114.4" y="225.4" width="0.7" height="0.7" fill="#444" opacity="0.55"/>
<rect x="102.9" y="242.1" width="0.7" height="0.7" fill="#444" opacity="0.55"/>
<rect x="101.4" y="235.1" width="0.7" height="0.7" fill="#444" opacity="0.55"/>
<rect x="132.1" y="222.4" width="0.7" height="0.7" fill="#444" opacity="0.55"/>
<rect x="107.6" y="236.9" width="0.7" height="0.7" fill="#444" opacity="0.55"/>
<rect x="117.7" y="237.9" width="0.7" height="0.7" fill="#444" opacity="0.55"/>
<rect x="127.8" y="223.4" width="0.7" height="0.7" fill="#444" opacity="0.55"/>
<rect x="111.2" y="227.3" width="0.7" height="0.7" fill="#444" opacity="0.55"/>
<rect x="102.6" y="245.6" width="0.7" height="0.7" fill="#444" opacity="0.55"/>
<rect x="126.8" y="240.2" width="0.7" height="0.7" fill="#444" opacity="0.55"/>
<rect x="101.2" y="244.2" width="0.7" height="0.7" fill="#444" opacity="0.55"/>
<rect x="125.6" y="232.4" width="0.7" height="0.7" fill="#444" opacity="0.55"/>
<rect x="125.5" y="232.0" width="0.7" height="0.7" fill="#444" opacity="0.55"/>
<rect x="108.5" y="221.3" width="0.7" height="0.7" fill="#444" opacity="0.55"/>
<rect x="108.7" y="219.2" width="0.7" height="0.7" fill="#444" opacity="0.55"/>
<rect x="112.1" y="241.2" width="0.7" height="0.7" fill="#444" opacity="0.55"/>
<rect x="141.1" y="215.5" width="0.7" height="0.7" fill="#444" opacity="0.55"/>
<rect x="143.2" y="223.9" width="0.7" height="0.7" fill="#444" opacity="0.55"/>
<rect x="139.5" y="227.2" width="0.7" height="0.7" fill="#444" opacity="0.55"/>
<rect x="145.3" y="220.5" width="0.7" height="0.7" fill="#444" opacity="0.55"/>
<rect x="143.4" y="241.4" width="0.7" height="0.7" fill="#444" opacity="0.55"/>
<rect x="147.1" y="228.8" width="0.7" height="0.7" fill="#444" opacity="0.55"/>
<rect x="144.6" y="229.0" width="0.7" height="0.7" fill="#444" opacity="0.55"/>
<rect x="143.8" y="235.9" width="0.7" height="0.7" fill="#444" opacity="0.55"/>
<rect x="143.6" y="210.8" width="0.7" height="0.7" fill="#444" opacity="0.55"/>
<rect x="143.9" y="222.9" width="0.7" height="0.7" fill="#444" opacity="0.55"/>
<rect x="146.9" y="225.1" width="0.7" height="0.7" fill="#444" opacity="0.55"/>
<rect x="144.7" y="247.4" width="0.7" height="0.7" fill="#444" opacity="0.55"/>
<rect x="139.3" y="221.0" width="0.7" height="0.7" fill="#444" opacity="0.55"/>
<rect x="137.6" y="210.8" width="0.7" height="0.7" fill="#444" opacity="0.55"/>
<rect x="135.5" y="232.9" width="0.7" height="0.7" fill="#444" opacity="0.55"/>
<rect x="141.1" y="215.1" width="0.7" height="0.7" fill="#444" opacity="0.55"/>
<rect x="137.3" y="234.9" width="0.7" height="0.7" fill="#444" opacity="0.55"/>
<rect x="140.5" y="227.1" width="0.7" height="0.7" fill="#444" opacity="0.55"/>
<rect x="145.5" y="240.9" width="0.7" height="0.7" fill="#444" opacity="0.55"/>
<rect x="152.7" y="238.3" width="0.7" height="0.7" fill="#444" opacity="0.55"/>
<rect x="144.6" y="231.5" width="0.7" height="0.7" fill="#444" opacity="0.55"/>
<rect x="152.1" y="241.4" width="0.7" height="0.7" fill="#444" opacity="0.55"/>
<rect x="142.6" y="233.7" width="0.7" height="0.7" fill="#444" opacity="0.55"/>
<rect x="145.3" y="230.4" width="0.7" height="0.7" fill="#444" opacity="0.55"/>
<rect x="141.7" y="219.4" width="0.7" height="0.7" fill="#444" opacity="0.55"/>
<rect x="141.6" y="217.6" width="0.7" height="0.7" fill="#444" opacity="0.55"/>
<rect x="149.5" y="234.3" width="0.7" height="0.7" fill="#444" opacity="0.55"/>
<rect x="138.6" y="241.2" width="0.7" height="0.7" fill="#444" opacity="0.55"/>
<rect x="148.0" y="214.7" width="0.7" height="0.7" fill="#444" opacity="0.55"/>
<rect x="152.3" y="236.5" width="0.7" height="0.7" fill="#444" opacity="0.55"/>
<rect x="153.3" y="220.2" width="0.7" height="0.7" fill="#444" opacity="0.55"/>
<rect x="146.4" y="233.4" width="0.7" height="0.7" fill="#444" opacity="0.55"/>
<rect x="144.9" y="231.4" width="0.7" height="0.7" fill="#444" opacity="0.55"/>
<rect x="148.7" y="218.0" width="0.7" height="0.7" fill="#444" opacity="0.55"/>
<rect x="138.4" y="218.8" width="0.7" height="0.7" fill="#444" opacity="0.55"/>
<rect x="141.5" y="225.2" width="0.7" height="0.7" fill="#444" opacity="0.55"/>
<rect x="145.7" y="232.1" width="0.7" height="0.7" fill="#444" opacity="0.55"/>
<rect x="144.1" y="224.6" width="0.7" height="0.7" fill="#444" opacity="0.55"/>
<rect x="142.0" y="237.6" width="0.7" height="0.7" fill="#444" opacity="0.55"/>
<rect x="147.4" y="230.8" width="0.7" height="0.7" fill="#444" opacity="0.55"/>
</g>
<rect x="100.50" y="183.50" width="66.50" height="66.50" fill="none" stroke="#151515" stroke-width="1.15"/>
<line x1="136.5" y1="183.5" x2="136.5" y2="250" stroke="#151515" stroke-width="1.15"/>
<line x1="100.5" y1="216.5" x2="167" y2="216.5" stroke="#151515" stroke-width="1.15"/>
<line x1="99.2" y1="188.25" x2="100.5" y2="188.25" stroke="#151515" stroke-width="0.5"/>
<line x1="105.25" y1="250" x2="105.25" y2="251.3" stroke="#151515" stroke-width="0.5"/>
<line x1="99.2" y1="193.0" x2="100.5" y2="193.0" stroke="#151515" stroke-width="0.5"/>
<line x1="110.0" y1="250" x2="110.0" y2="251.3" stroke="#151515" stroke-width="0.5"/>
<line x1="99.2" y1="197.75" x2="100.5" y2="197.75" stroke="#151515" stroke-width="0.5"/>
<line x1="114.75" y1="250" x2="114.75" y2="251.3" stroke="#151515" stroke-width="0.5"/>
<line x1="99.2" y1="202.5" x2="100.5" y2="202.5" stroke="#151515" stroke-width="0.5"/>
<line x1="119.5" y1="250" x2="119.5" y2="251.3" stroke="#151515" stroke-width="0.5"/>
<line x1="99.2" y1="207.25" x2="100.5" y2="207.25" stroke="#151515" stroke-width="0.5"/>
<line x1="124.25" y1="250" x2="124.25" y2="251.3" stroke="#151515" stroke-width="0.5"/>
<line x1="99.2" y1="212.0" x2="100.5" y2="212.0" stroke="#151515" stroke-width="0.5"/>
<line x1="129.0" y1="250" x2="129.0" y2="251.3" stroke="#151515" stroke-width="0.5"/>
<line x1="99.2" y1="216.75" x2="100.5" y2="216.75" stroke="#151515" stroke-width="0.5"/>
<line x1="133.75" y1="250" x2="133.75" y2="251.3" stroke="#151515" stroke-width="0.5"/>
<line x1="99.2" y1="221.5" x2="100.5" y2="221.5" stroke="#151515" stroke-width="0.5"/>
<line x1="138.5" y1="250" x2="138.5" y2="251.3" stroke="#151515" stroke-width="0.5"/>
<line x1="99.2" y1="226.25" x2="100.5" y2="226.25" stroke="#151515" stroke-width="0.5"/>
<line x1="143.25" y1="250" x2="143.25" y2="251.3" stroke="#151515" stroke-width="0.5"/>
<line x1="99.2" y1="231.0" x2="100.5" y2="231.0" stroke="#151515" stroke-width="0.5"/>
<line x1="148.0" y1="250" x2="148.0" y2="251.3" stroke="#151515" stroke-width="0.5"/>
<line x1="99.2" y1="235.75" x2="100.5" y2="235.75" stroke="#151515" stroke-width="0.5"/>
<line x1="152.75" y1="250" x2="152.75" y2="251.3" stroke="#151515" stroke-width="0.5"/>
<line x1="99.2" y1="240.5" x2="100.5" y2="240.5" stroke="#151515" stroke-width="0.5"/>
<line x1="157.5" y1="250" x2="157.5" y2="251.3" stroke="#151515" stroke-width="0.5"/>
<line x1="99.2" y1="245.25" x2="100.5" y2="245.25" stroke="#151515" stroke-width="0.5"/>
<line x1="162.25" y1="250" x2="162.25" y2="251.3" stroke="#151515" stroke-width="0.5"/>
<text x="132.7" y="181" font-size="9.3" text-anchor="middle" font-weight="normal" fill="#151515" stroke="#151515" stroke-width="0.15">NSG</text>
<text x="101.7" y="192.8" font-size="9.6" text-anchor="start" font-weight="normal" fill="#151515" stroke="#151515" stroke-width="0.2">4.7</text>
<text x="165.8" y="192.8" font-size="9.6" text-anchor="end" font-weight="normal" fill="#151515" stroke="#151515" stroke-width="0.2">83</text>
<text x="101.3" y="248.6" font-size="9.6" text-anchor="start" font-weight="normal" fill="#151515" stroke="#151515" stroke-width="0.2">5.2</text>
<text x="165.8" y="248.6" font-size="9.6" text-anchor="end" font-weight="normal" fill="#151515" stroke="#151515" stroke-width="0.2">7.1</text>
<clipPath id="clip3"><rect x="178.5" y="183.5" width="67.0" height="66.5"/></clipPath>
<g clip-path="url(#clip3)">
<ellipse cx="202.5" cy="208.3" rx="7.5" ry="5" fill="#8a8a8a" opacity="0.5" filter="url(#bl2)" transform="rotate(0 202.5 208.3)"/>
<ellipse cx="205.0" cy="229.0" rx="9.5" ry="13" fill="#808080" opacity="0.5" filter="url(#bl2)" transform="rotate(0 205.0 229.0)"/>
<ellipse cx="220.6" cy="229.0" rx="5" ry="12.5" fill="#666" opacity="0.5" filter="url(#bl2)" transform="rotate(0 220.6 229.0)"/>
<ellipse cx="220.0" cy="208.0" rx="9" ry="7.5" fill="#555" opacity="0.5" filter="url(#bl2)" transform="rotate(0 220.0 208.0)"/>
<ellipse cx="220.0" cy="208.0" rx="6.2" ry="5.4" fill="#1a1a1a" opacity="0.95" filter="url(#bl1)" transform="rotate(0 220.0 208.0)"/>
<ellipse cx="219.2" cy="207.4" rx="4.4" ry="3.6" fill="#000" opacity="1" filter="url(#bl05)" transform="rotate(0 219.2 207.4)"/>
<ellipse cx="205.2" cy="229.2" rx="2.4" ry="4.6" fill="none" stroke="#555" stroke-width="0.5" opacity="0.85" transform="rotate(6 205.2 229.2)"/>
<ellipse cx="205.2" cy="229.2" rx="4.8" ry="8" fill="none" stroke="#555" stroke-width="0.5" opacity="0.85" transform="rotate(6 205.2 229.2)"/>
<ellipse cx="205.2" cy="229.2" rx="7.4" ry="11.4" fill="none" stroke="#555" stroke-width="0.5" opacity="0.85" transform="rotate(6 205.2 229.2)"/>
<ellipse cx="205.2" cy="229.2" rx="10.2" ry="14.4" fill="none" stroke="#555" stroke-width="0.5" opacity="0.85" transform="rotate(6 205.2 229.2)"/>
<ellipse cx="220.6" cy="229.4" rx="1.8" ry="5" fill="none" stroke="#555" stroke-width="0.5" opacity="0.85" transform="rotate(-3 220.6 229.4)"/>
<ellipse cx="220.6" cy="229.4" rx="3.6" ry="8.6" fill="none" stroke="#555" stroke-width="0.5" opacity="0.85" transform="rotate(-3 220.6 229.4)"/>
<ellipse cx="220.6" cy="229.4" rx="5.6" ry="12.4" fill="none" stroke="#555" stroke-width="0.5" opacity="0.85" transform="rotate(-3 220.6 229.4)"/>
<ellipse cx="202.8" cy="208.2" rx="7.6" ry="4.8" fill="none" stroke="#555" stroke-width="0.5" opacity="0.85" transform="rotate(-5 202.8 208.2)"/>
<ellipse cx="203.0" cy="208.2" rx="4.6" ry="2.8" fill="none" stroke="#555" stroke-width="0.5" opacity="0.85" transform="rotate(-5 203.0 208.2)"/>
<ellipse cx="220.0" cy="208.0" rx="9.6" ry="8" fill="none" stroke="#555" stroke-width="0.45" opacity="0.7" transform="rotate(0 220.0 208.0)"/>
<rect x="202.1" y="243.1" width="0.7" height="0.7" fill="#444" opacity="0.55"/>
<rect x="199.7" y="233.1" width="0.7" height="0.7" fill="#444" opacity="0.55"/>
<rect x="215.4" y="223.1" width="0.7" height="0.7" fill="#444" opacity="0.55"/>
<rect x="212.4" y="213.7" width="0.7" height="0.7" fill="#444" opacity="0.55"/>
<rect x="214.1" y="228.2" width="0.7" height="0.7" fill="#444" opacity="0.55"/>
<rect x="190.7" y="233.4" width="0.7" height="0.7" fill="#444" opacity="0.55"/>
<rect x="197.0" y="240.1" width="0.7" height="0.7" fill="#444" opacity="0.55"/>
<rect x="198.9" y="224.2" width="0.7" height="0.7" fill="#444" opacity="0.55"/>
<rect x="207.5" y="222.3" width="0.7" height="0.7" fill="#444" opacity="0.55"/>
<rect x="207.3" y="219.9" width="0.7" height="0.7" fill="#444" opacity="0.55"/>
<rect x="211.0" y="226.1" width="0.7" height="0.7" fill="#444" opacity="0.55"/>
<rect x="206.9" y="195.7" width="0.7" height="0.7" fill="#444" opacity="0.55"/>
<rect x="215.5" y="226.4" width="0.7" height="0.7" fill="#444" opacity="0.55"/>
<rect x="189.0" y="227.1" width="0.7" height="0.7" fill="#444" opacity="0.55"/>
<rect x="209.2" y="237.8" width="0.7" height="0.7" fill="#444" opacity="0.55"/>
<rect x="195.3" y="243.0" width="0.7" height="0.7" fill="#444" opacity="0.55"/>
<rect x="203.6" y="252.3" width="0.7" height="0.7" fill="#444" opacity="0.55"/>
<rect x="203.7" y="233.5" width="0.7" height="0.7" fill="#444" opacity="0.55"/>
<rect x="201.7" y="213.7" width="0.7" height="0.7" fill="#444" opacity="0.55"/>
<rect x="214.9" y="236.0" width="0.7" height="0.7" fill="#444" opacity="0.55"/>
<rect x="218.8" y="235.4" width="0.7" height="0.7" fill="#444" opacity="0.55"/>
<rect x="199.8" y="207.7" width="0.7" height="0.7" fill="#444" opacity="0.55"/>
<rect x="199.1" y="218.6" width="0.7" height="0.7" fill="#444" opacity="0.55"/>
<rect x="197.7" y="232.4" width="0.7" height="0.7" fill="#444" opacity="0.55"/>
<rect x="208.0" y="223.0" width="0.7" height="0.7" fill="#444" opacity="0.55"/>
<rect x="206.6" y="224.4" width="0.7" height="0.7" fill="#444" opacity="0.55"/>
<rect x="206.9" y="234.3" width="0.7" height="0.7" fill="#444" opacity="0.55"/>
<rect x="213.6" y="218.5" width="0.7" height="0.7" fill="#444" opacity="0.55"/>
<rect x="191.4" y="241.7" width="0.7" height="0.7" fill="#444" opacity="0.55"/>
<rect x="206.0" y="238.2" width="0.7" height="0.7" fill="#444" opacity="0.55"/>
<rect x="190.2" y="222.4" width="0.7" height="0.7" fill="#444" opacity="0.55"/>
<rect x="205.2" y="210.1" width="0.7" height="0.7" fill="#444" opacity="0.55"/>
<rect x="200.4" y="234.0" width="0.7" height="0.7" fill="#444" opacity="0.55"/>
<rect x="214.7" y="243.5" width="0.7" height="0.7" fill="#444" opacity="0.55"/>
<rect x="197.2" y="210.6" width="0.7" height="0.7" fill="#444" opacity="0.55"/>
<rect x="209.7" y="236.3" width="0.7" height="0.7" fill="#444" opacity="0.55"/>
<rect x="206.7" y="211.7" width="0.7" height="0.7" fill="#444" opacity="0.55"/>
<rect x="212.0" y="234.7" width="0.7" height="0.7" fill="#444" opacity="0.55"/>
<rect x="210.0" y="220.6" width="0.7" height="0.7" fill="#444" opacity="0.55"/>
<rect x="207.7" y="234.7" width="0.7" height="0.7" fill="#444" opacity="0.55"/>
<rect x="200.0" y="205.7" width="0.7" height="0.7" fill="#444" opacity="0.55"/>
<rect x="208.0" y="231.3" width="0.7" height="0.7" fill="#444" opacity="0.55"/>
<rect x="205.1" y="235.8" width="0.7" height="0.7" fill="#444" opacity="0.55"/>
<rect x="199.7" y="225.1" width="0.7" height="0.7" fill="#444" opacity="0.55"/>
<rect x="202.3" y="232.3" width="0.7" height="0.7" fill="#444" opacity="0.55"/>
<rect x="219.4" y="223.2" width="0.7" height="0.7" fill="#444" opacity="0.55"/>
<rect x="223.5" y="242.8" width="0.7" height="0.7" fill="#444" opacity="0.55"/>
<rect x="212.1" y="232.5" width="0.7" height="0.7" fill="#444" opacity="0.55"/>
<rect x="220.9" y="224.0" width="0.7" height="0.7" fill="#444" opacity="0.55"/>
<rect x="204.0" y="214.3" width="0.7" height="0.7" fill="#444" opacity="0.55"/>
<rect x="209.3" y="240.8" width="0.7" height="0.7" fill="#444" opacity="0.55"/>
<rect x="209.8" y="230.7" width="0.7" height="0.7" fill="#444" opacity="0.55"/>
<rect x="203.2" y="227.9" width="0.7" height="0.7" fill="#444" opacity="0.55"/>
<rect x="192.2" y="237.5" width="0.7" height="0.7" fill="#444" opacity="0.55"/>
<rect x="201.3" y="213.8" width="0.7" height="0.7" fill="#444" opacity="0.55"/>
<rect x="198.2" y="216.9" width="0.7" height="0.7" fill="#444" opacity="0.55"/>
<rect x="212.7" y="237.6" width="0.7" height="0.7" fill="#444" opacity="0.55"/>
<rect x="192.8" y="236.2" width="0.7" height="0.7" fill="#444" opacity="0.55"/>
<rect x="213.0" y="219.6" width="0.7" height="0.7" fill="#444" opacity="0.55"/>
<rect x="191.6" y="217.8" width="0.7" height="0.7" fill="#444" opacity="0.55"/>
<rect x="217.8" y="232.1" width="0.7" height="0.7" fill="#444" opacity="0.55"/>
<rect x="219.2" y="210.7" width="0.7" height="0.7" fill="#444" opacity="0.55"/>
<rect x="222.2" y="215.2" width="0.7" height="0.7" fill="#444" opacity="0.55"/>
<rect x="225.5" y="218.1" width="0.7" height="0.7" fill="#444" opacity="0.55"/>
<rect x="217.5" y="221.3" width="0.7" height="0.7" fill="#444" opacity="0.55"/>
<rect x="218.3" y="240.7" width="0.7" height="0.7" fill="#444" opacity="0.55"/>
<rect x="225.3" y="234.4" width="0.7" height="0.7" fill="#444" opacity="0.55"/>
<rect x="222.6" y="215.1" width="0.7" height="0.7" fill="#444" opacity="0.55"/>
<rect x="218.4" y="224.0" width="0.7" height="0.7" fill="#444" opacity="0.55"/>
<rect x="216.1" y="233.6" width="0.7" height="0.7" fill="#444" opacity="0.55"/>
<rect x="217.3" y="222.6" width="0.7" height="0.7" fill="#444" opacity="0.55"/>
<rect x="215.8" y="210.5" width="0.7" height="0.7" fill="#444" opacity="0.55"/>
<rect x="224.0" y="241.0" width="0.7" height="0.7" fill="#444" opacity="0.55"/>
<rect x="221.9" y="220.2" width="0.7" height="0.7" fill="#444" opacity="0.55"/>
<rect x="207.5" y="230.6" width="0.7" height="0.7" fill="#444" opacity="0.55"/>
<rect x="227.1" y="231.7" width="0.7" height="0.7" fill="#444" opacity="0.55"/>
<rect x="225.6" y="242.3" width="0.7" height="0.7" fill="#444" opacity="0.55"/>
<rect x="226.6" y="225.0" width="0.7" height="0.7" fill="#444" opacity="0.55"/>
<rect x="226.3" y="236.0" width="0.7" height="0.7" fill="#444" opacity="0.55"/>
<rect x="213.3" y="225.4" width="0.7" height="0.7" fill="#444" opacity="0.55"/>
<rect x="213.9" y="228.0" width="0.7" height="0.7" fill="#444" opacity="0.55"/>
<rect x="223.9" y="219.4" width="0.7" height="0.7" fill="#444" opacity="0.55"/>
<rect x="210.7" y="240.7" width="0.7" height="0.7" fill="#444" opacity="0.55"/>
<rect x="222.9" y="242.2" width="0.7" height="0.7" fill="#444" opacity="0.55"/>
<rect x="214.4" y="238.5" width="0.7" height="0.7" fill="#444" opacity="0.55"/>
<rect x="231.4" y="247.1" width="0.7" height="0.7" fill="#444" opacity="0.55"/>
<rect x="219.9" y="231.4" width="0.7" height="0.7" fill="#444" opacity="0.55"/>
<rect x="220.2" y="238.0" width="0.7" height="0.7" fill="#444" opacity="0.55"/>
<rect x="226.2" y="229.8" width="0.7" height="0.7" fill="#444" opacity="0.55"/>
<rect x="214.2" y="235.7" width="0.7" height="0.7" fill="#444" opacity="0.55"/>
<rect x="197.7" y="207.8" width="0.7" height="0.7" fill="#444" opacity="0.55"/>
<rect x="206.3" y="210.1" width="0.7" height="0.7" fill="#444" opacity="0.55"/>
<rect x="210.7" y="205.9" width="0.7" height="0.7" fill="#444" opacity="0.55"/>
<rect x="207.6" y="207.6" width="0.7" height="0.7" fill="#444" opacity="0.55"/>
<rect x="198.6" y="208.4" width="0.7" height="0.7" fill="#444" opacity="0.55"/>
<rect x="207.1" y="209.5" width="0.7" height="0.7" fill="#444" opacity="0.55"/>
<rect x="207.8" y="205.8" width="0.7" height="0.7" fill="#444" opacity="0.55"/>
<rect x="202.4" y="205.5" width="0.7" height="0.7" fill="#444" opacity="0.55"/>
<rect x="195.0" y="210.7" width="0.7" height="0.7" fill="#444" opacity="0.55"/>
<rect x="204.1" y="207.4" width="0.7" height="0.7" fill="#444" opacity="0.55"/>
<rect x="208.0" y="209.4" width="0.7" height="0.7" fill="#444" opacity="0.55"/>
<rect x="196.5" y="204.9" width="0.7" height="0.7" fill="#444" opacity="0.55"/>
<rect x="202.1" y="212.0" width="0.7" height="0.7" fill="#444" opacity="0.55"/>
<rect x="197.8" y="212.0" width="0.7" height="0.7" fill="#444" opacity="0.55"/>
<rect x="208.7" y="207.7" width="0.7" height="0.7" fill="#444" opacity="0.55"/>
<rect x="195.6" y="210.9" width="0.7" height="0.7" fill="#444" opacity="0.55"/>
<rect x="199.4" y="208.1" width="0.7" height="0.7" fill="#444" opacity="0.55"/>
<rect x="205.9" y="208.2" width="0.7" height="0.7" fill="#444" opacity="0.55"/>
<rect x="196.2" y="208.1" width="0.7" height="0.7" fill="#444" opacity="0.55"/>
<rect x="200.6" y="210.5" width="0.7" height="0.7" fill="#444" opacity="0.55"/>
<rect x="199.4" y="205.1" width="0.7" height="0.7" fill="#444" opacity="0.55"/>
<rect x="198.0" y="204.7" width="0.7" height="0.7" fill="#444" opacity="0.55"/>
<rect x="210.4" y="208.6" width="0.7" height="0.7" fill="#444" opacity="0.55"/>
<rect x="208.2" y="207.2" width="0.7" height="0.7" fill="#444" opacity="0.55"/>
<rect x="209.9" y="208.4" width="0.7" height="0.7" fill="#444" opacity="0.55"/>
</g>
<rect x="178.50" y="183.50" width="67.00" height="66.50" fill="none" stroke="#151515" stroke-width="1.15"/>
<line x1="214.5" y1="183.5" x2="214.5" y2="250" stroke="#151515" stroke-width="1.15"/>
<line x1="178.5" y1="216.5" x2="245.5" y2="216.5" stroke="#151515" stroke-width="1.15"/>
<line x1="177.2" y1="188.25" x2="178.5" y2="188.25" stroke="#151515" stroke-width="0.5"/>
<line x1="183.28571428571428" y1="250" x2="183.28571428571428" y2="251.3" stroke="#151515" stroke-width="0.5"/>
<line x1="177.2" y1="193.0" x2="178.5" y2="193.0" stroke="#151515" stroke-width="0.5"/>
<line x1="188.07142857142858" y1="250" x2="188.07142857142858" y2="251.3" stroke="#151515" stroke-width="0.5"/>
<line x1="177.2" y1="197.75" x2="178.5" y2="197.75" stroke="#151515" stroke-width="0.5"/>
<line x1="192.85714285714286" y1="250" x2="192.85714285714286" y2="251.3" stroke="#151515" stroke-width="0.5"/>
<line x1="177.2" y1="202.5" x2="178.5" y2="202.5" stroke="#151515" stroke-width="0.5"/>
<line x1="197.64285714285714" y1="250" x2="197.64285714285714" y2="251.3" stroke="#151515" stroke-width="0.5"/>
<line x1="177.2" y1="207.25" x2="178.5" y2="207.25" stroke="#151515" stroke-width="0.5"/>
<line x1="202.42857142857142" y1="250" x2="202.42857142857142" y2="251.3" stroke="#151515" stroke-width="0.5"/>
<line x1="177.2" y1="212.0" x2="178.5" y2="212.0" stroke="#151515" stroke-width="0.5"/>
<line x1="207.21428571428572" y1="250" x2="207.21428571428572" y2="251.3" stroke="#151515" stroke-width="0.5"/>
<line x1="177.2" y1="216.75" x2="178.5" y2="216.75" stroke="#151515" stroke-width="0.5"/>
<line x1="212.0" y1="250" x2="212.0" y2="251.3" stroke="#151515" stroke-width="0.5"/>
<line x1="177.2" y1="221.5" x2="178.5" y2="221.5" stroke="#151515" stroke-width="0.5"/>
<line x1="216.78571428571428" y1="250" x2="216.78571428571428" y2="251.3" stroke="#151515" stroke-width="0.5"/>
<line x1="177.2" y1="226.25" x2="178.5" y2="226.25" stroke="#151515" stroke-width="0.5"/>
<line x1="221.57142857142856" y1="250" x2="221.57142857142856" y2="251.3" stroke="#151515" stroke-width="0.5"/>
<line x1="177.2" y1="231.0" x2="178.5" y2="231.0" stroke="#151515" stroke-width="0.5"/>
<line x1="226.35714285714286" y1="250" x2="226.35714285714286" y2="251.3" stroke="#151515" stroke-width="0.5"/>
<line x1="177.2" y1="235.75" x2="178.5" y2="235.75" stroke="#151515" stroke-width="0.5"/>
<line x1="231.14285714285714" y1="250" x2="231.14285714285714" y2="251.3" stroke="#151515" stroke-width="0.5"/>
<line x1="177.2" y1="240.5" x2="178.5" y2="240.5" stroke="#151515" stroke-width="0.5"/>
<line x1="235.92857142857144" y1="250" x2="235.92857142857144" y2="251.3" stroke="#151515" stroke-width="0.5"/>
<line x1="177.2" y1="245.25" x2="178.5" y2="245.25" stroke="#151515" stroke-width="0.5"/>
<line x1="240.71428571428572" y1="250" x2="240.71428571428572" y2="251.3" stroke="#151515" stroke-width="0.5"/>
<text x="210.3" y="181" font-size="9.3" text-anchor="middle" font-weight="normal" fill="#151515" stroke="#151515" stroke-width="0.15">NSGAb<tspan dx="0.3" dy="-3.6" font-size="6.6">o</tspan><tspan dy="3.6" dx="0.7" font-size="0.1"> </tspan>DR1</text>
<text x="179.7" y="192.8" font-size="9.6" text-anchor="start" font-weight="normal" fill="#151515" stroke="#151515" stroke-width="0.2">7.4</text>
<text x="244.3" y="192.8" font-size="9.6" text-anchor="end" font-weight="normal" fill="#151515" stroke="#151515" stroke-width="0.2">71.6</text>
<text x="179.3" y="248.6" font-size="9.6" text-anchor="start" font-weight="normal" fill="#151515" stroke="#151515" stroke-width="0.2">10.7</text>
<text x="244.3" y="248.6" font-size="9.6" text-anchor="end" font-weight="normal" fill="#151515" stroke="#151515" stroke-width="0.2">10.3</text>
<text x="13.2" y="253.5" font-size="9.6" text-anchor="start" font-weight="normal" fill="#151515" stroke="#151515" stroke-width="0.32" transform="rotate(-90 13.2 253.5)">CD8</text>
<line x1="10.5" y1="230" x2="10.5" y2="196" stroke="#151515" stroke-width="1"/>
<path d="M10 189 L7.5 197 L12.5 197 Z" fill="#111"/>
<text x="24.4" y="268" font-size="9.6" text-anchor="start" font-weight="normal" fill="#151515" stroke="#151515" stroke-width="0.32">CD4</text>
<line x1="45.6" y1="264.5" x2="228" y2="264.5" stroke="#151515" stroke-width="1"/>
<path d="M235.8 264.6 L227 262 L227 267.2 Z" fill="#111"/>
<text x="399" y="168" font-size="9.5" text-anchor="middle" font-weight="normal" fill="#151515" stroke="#151515" stroke-width="0.25">Thymus</text>
<line x1="343.5" y1="181" x2="343.5" y2="216" stroke="#151515" stroke-width="1.1"/>
<line x1="343.5" y1="218.5" x2="343.5" y2="250.5" stroke="#151515" stroke-width="1.1"/>
<line x1="342.5" y1="250.5" x2="459.6" y2="250.5" stroke="#151515" stroke-width="1.1"/>
<line x1="341" y1="182.5" x2="343" y2="182.5" stroke="#151515" stroke-width="1"/>
<text x="340.4" y="185.4" font-size="9.5" text-anchor="end" font-weight="normal" fill="#151515" stroke="#151515" stroke-width="0.32">100</text>
<line x1="341" y1="192.5" x2="343" y2="192.5" stroke="#151515" stroke-width="1"/>
<text x="340.4" y="195.9" font-size="9.5" text-anchor="end" font-weight="normal" fill="#151515" stroke="#151515" stroke-width="0.32">90</text>
<line x1="341" y1="203.5" x2="343" y2="203.5" stroke="#151515" stroke-width="1"/>
<text x="340.4" y="206.4" font-size="9.5" text-anchor="end" font-weight="normal" fill="#151515" stroke="#151515" stroke-width="0.32">80</text>
<line x1="341" y1="213.5" x2="343" y2="213.5" stroke="#151515" stroke-width="1"/>
<text x="340.4" y="216.8" font-size="9.5" text-anchor="end" font-weight="normal" fill="#151515" stroke="#151515" stroke-width="0.32">70</text>
<line x1="341" y1="228.5" x2="343" y2="228.5" stroke="#151515" stroke-width="1"/>
<text x="340.4" y="231.8" font-size="9.5" text-anchor="end" font-weight="normal" fill="#151515" stroke="#151515" stroke-width="0.32">10</text>
<line x1="341" y1="239.5" x2="343" y2="239.5" stroke="#151515" stroke-width="1"/>
<text x="340.4" y="242.70000000000002" font-size="9.5" text-anchor="end" font-weight="normal" fill="#151515" stroke="#151515" stroke-width="0.32">5</text>
<line x1="341" y1="250.5" x2="343" y2="250.5" stroke="#151515" stroke-width="1"/>
<text x="340.4" y="253.4" font-size="9.5" text-anchor="end" font-weight="normal" fill="#151515" stroke="#151515" stroke-width="0.32">0</text>
<line x1="341" y1="216.5" x2="343.5" y2="216.5" stroke="#151515" stroke-width="1"/>
<text x="317.3" y="214" font-size="9.6" text-anchor="middle" font-weight="normal" fill="#151515" stroke="#151515" stroke-width="0.32" transform="rotate(-90 317.3 214)">% hCD45<tspan dy="-3.6" font-size="6.5">+</tspan></text>
<line x1="348.5" y1="198" x2="348.5" y2="199" stroke="#151515" stroke-width="0.9"/>
<line x1="347.2" y1="198.5" x2="350.2" y2="198.5" stroke="#151515" stroke-width="0.9"/>
<rect x="346.40" y="199.40" width="4.60" height="51.00" fill="#fff" stroke="#111" stroke-width="0.8"/>
<line x1="355.5" y1="200" x2="355.5" y2="200.4" stroke="#151515" stroke-width="0.9"/>
<line x1="353.7" y1="200.5" x2="356.7" y2="200.5" stroke="#151515" stroke-width="0.9"/>
<rect x="352.80" y="200.80" width="4.80" height="49.60" fill="#111" stroke="#111" stroke-width="0.8"/>
<line x1="361.5" y1="202.6" x2="361.5" y2="209" stroke="#151515" stroke-width="0.9"/>
<line x1="360.0" y1="202.5" x2="363.0" y2="202.5" stroke="#151515" stroke-width="0.9"/>
<rect x="359.40" y="209.40" width="4.20" height="41.00" fill="#d32818" stroke="#111" stroke-width="0.8"/>
<line x1="371.5" y1="237.6" x2="371.5" y2="239" stroke="#151515" stroke-width="0.9"/>
<line x1="370.2" y1="237.5" x2="373.2" y2="237.5" stroke="#151515" stroke-width="0.9"/>
<rect x="369.40" y="239.40" width="4.60" height="11.00" fill="#fff" stroke="#111" stroke-width="0.8"/>
<line x1="378.5" y1="239.6" x2="378.5" y2="240.4" stroke="#151515" stroke-width="0.9"/>
<line x1="376.6" y1="239.5" x2="379.6" y2="239.5" stroke="#151515" stroke-width="0.9"/>
<rect x="376.00" y="240.80" width="4.20" height="9.60" fill="#111" stroke="#111" stroke-width="0.8"/>
<line x1="384.5" y1="237.4" x2="384.5" y2="238.4" stroke="#151515" stroke-width="0.9"/>
<line x1="382.8" y1="237.5" x2="385.8" y2="237.5" stroke="#151515" stroke-width="0.9"/>
<rect x="382.00" y="238.80" width="4.60" height="11.60" fill="#d32818" stroke="#111" stroke-width="0.8"/>
<line x1="395.5" y1="233.4" x2="395.5" y2="238" stroke="#151515" stroke-width="0.9"/>
<line x1="393.7" y1="233.5" x2="396.7" y2="233.5" stroke="#151515" stroke-width="0.9"/>
<rect x="392.80" y="238.40" width="4.80" height="12.00" fill="#fff" stroke="#111" stroke-width="0.8"/>
<line x1="401.5" y1="229.6" x2="401.5" y2="232" stroke="#151515" stroke-width="0.9"/>
<line x1="400.1" y1="229.5" x2="403.1" y2="229.5" stroke="#151515" stroke-width="0.9"/>
<rect x="399.40" y="232.40" width="4.40" height="18.00" fill="#111" stroke="#111" stroke-width="0.8"/>
<line x1="407.5" y1="222.6" x2="407.5" y2="226" stroke="#151515" stroke-width="0.9"/>
<line x1="406.1" y1="222.5" x2="409.1" y2="222.5" stroke="#151515" stroke-width="0.9"/>
<rect x="405.40" y="226.40" width="4.40" height="24.00" fill="#d32818" stroke="#111" stroke-width="0.8"/>
<line x1="418.5" y1="234" x2="418.5" y2="236.6" stroke="#151515" stroke-width="0.9"/>
<line x1="417.0" y1="234.5" x2="420.0" y2="234.5" stroke="#151515" stroke-width="0.9"/>
<rect x="416.40" y="237.00" width="4.20" height="13.40" fill="#fff" stroke="#111" stroke-width="0.8"/>
<line x1="424.5" y1="238" x2="424.5" y2="239" stroke="#151515" stroke-width="0.9"/>
<line x1="423.1" y1="238.5" x2="426.1" y2="238.5" stroke="#151515" stroke-width="0.9"/>
<rect x="422.60" y="239.40" width="4.00" height="11.00" fill="#111" stroke="#111" stroke-width="0.8"/>
<line x1="430.5" y1="218.6" x2="430.5" y2="230" stroke="#151515" stroke-width="0.9"/>
<line x1="429.0" y1="218.5" x2="432.0" y2="218.5" stroke="#151515" stroke-width="0.9"/>
<rect x="428.40" y="230.40" width="4.20" height="20.00" fill="#d32818" stroke="#111" stroke-width="0.8"/>
<line x1="441.5" y1="248.6" x2="441.5" y2="249" stroke="#151515" stroke-width="0.9"/>
<line x1="440.0" y1="248.5" x2="443.0" y2="248.5" stroke="#151515" stroke-width="0.9"/>
<rect x="439.40" y="249.40" width="4.20" height="1.00" fill="#fff" stroke="#111" stroke-width="0.8"/>
<line x1="447.5" y1="247.8" x2="447.5" y2="248.4" stroke="#151515" stroke-width="0.9"/>
<line x1="446.4" y1="247.5" x2="449.4" y2="247.5" stroke="#151515" stroke-width="0.9"/>
<rect x="445.80" y="248.80" width="4.20" height="1.60" fill="#111" stroke="#111" stroke-width="0.8"/>
<line x1="454.5" y1="242.6" x2="454.5" y2="244.6" stroke="#151515" stroke-width="0.9"/>
<line x1="452.6" y1="242.5" x2="455.6" y2="242.5" stroke="#151515" stroke-width="0.9"/>
<rect x="452.00" y="245.00" width="4.20" height="5.40" fill="#d32818" stroke="#111" stroke-width="0.8"/>
<text x="359.2" y="257.4" font-size="9.8" text-anchor="end" font-weight="normal" fill="#151515" stroke="#151515" stroke-width="0.32" transform="rotate(-45 359.2 257.4)">DP</text>
<text x="382.2" y="257.4" font-size="9.8" text-anchor="end" font-weight="normal" fill="#151515" stroke="#151515" stroke-width="0.32" transform="rotate(-45 382.2 257.4)">CD8</text>
<text x="405.5" y="257.4" font-size="9.8" text-anchor="end" font-weight="normal" fill="#151515" stroke="#151515" stroke-width="0.32" transform="rotate(-45 405.5 257.4)">CD4</text>
<text x="428.7" y="257.4" font-size="9.8" text-anchor="end" font-weight="normal" fill="#151515" stroke="#151515" stroke-width="0.32" transform="rotate(-45 428.7 257.4)">DN</text>
<text x="452.2" y="257.4" font-size="9.8" text-anchor="end" font-weight="normal" fill="#151515" stroke="#151515" stroke-width="0.32" transform="rotate(-45 452.2 257.4)">Tregs</text>
<rect x="434.00" y="173.10" width="6.40" height="6.40" fill="#fff" stroke="#111" stroke-width="0.9"/>
<text x="442" y="179.6" font-size="9.4" text-anchor="start" font-weight="normal" fill="#151515" stroke="#151515" stroke-width="0.32">NSGAb<tspan dx="0.2" dy="-3.6" font-size="6.6">o</tspan><tspan dy="3.6" dx="0.6000000000000001" font-size="0.1"> </tspan></text>
<rect x="434.00" y="182.70" width="6.40" height="6.40" fill="#111" stroke="#111" stroke-width="0.9"/>
<text x="442" y="189.20000000000002" font-size="9.4" text-anchor="start" font-weight="normal" fill="#151515" stroke="#151515" stroke-width="0.32">NSG</text>
<rect x="434.00" y="192.40" width="6.40" height="6.40" fill="#d32818" stroke="#111" stroke-width="0.9"/>
<text x="442" y="198.9" font-size="9.4" text-anchor="start" font-weight="normal" fill="#151515" stroke="#151515" stroke-width="0.32">NSGAb<tspan dx="0.3" dy="-3.6" font-size="6.6">o</tspan><tspan dy="3.6" dx="0.7" font-size="0.1"> </tspan>DR1</text>
<text transform="translate(0 307.1) scale(1.17 1)" font-size="14.6" font-weight="bold" fill="#000" stroke="#000" stroke-width="0.5">D</text>
<circle cx="101.3" cy="347.5" r="30.5" fill="#fff"/>
<path d="M101.3 347.5 L101.30 317.00 A30.5 30.5 0 0 1 107.12 317.56 Z" fill="#4676c6" stroke="#fff" stroke-width="0.95"/>
<path d="M101.3 347.5 L108.42 317.84 A30.5 30.5 0 0 1 128.23 333.18 Z" fill="#17243f" stroke="#fff" stroke-width="0.95"/>
<path d="M101.3 347.5 L128.48 333.65 A30.5 30.5 0 0 1 129.27 359.66 Z" fill="#96ba22" stroke="#fff" stroke-width="0.95"/>
<path d="M101.3 347.5 L129.16 359.91 A30.5 30.5 0 0 1 127.31 363.44 Z" fill="#861816" stroke="#fff" stroke-width="0.95"/>
<path d="M101.3 347.5 L126.59 364.56 A30.5 30.5 0 0 1 120.70 371.03 Z" fill="#5aaad6" stroke="#fff" stroke-width="0.95"/>
<path d="M101.3 347.5 L119.23 372.18 A30.5 30.5 0 0 1 112.73 375.78 Z" fill="#3c2274" stroke="#fff" stroke-width="0.95"/>
<path d="M101.3 347.5 L106.60 377.54 A30.5 30.5 0 0 1 98.38 377.86 Z" fill="#96ba22" stroke="#fff" stroke-width="0.95"/>
<path d="M101.3 347.5 L97.32 377.74 A30.5 30.5 0 0 1 95.74 377.49 Z" fill="#17243f" stroke="#fff" stroke-width="0.15"/>
<path d="M101.3 347.5 L92.89 376.82 A30.5 30.5 0 0 1 89.38 375.58 Z" fill="#861816" stroke="#fff" stroke-width="0.95"/>
<path d="M101.3 347.5 L87.45 374.68 A30.5 30.5 0 0 1 86.75 374.30 Z" fill="#c0b0d8" stroke="#fff" stroke-width="0.15"/>
<path d="M101.3 347.5 L85.59 373.64 A30.5 30.5 0 0 1 84.91 373.22 Z" fill="#9eb8e0" stroke="#fff" stroke-width="0.15"/>
<path d="M101.3 347.5 L83.16 372.02 A30.5 30.5 0 0 1 82.11 371.20 Z" fill="#9eb8e0" stroke="#fff" stroke-width="0.15"/>
<path d="M101.3 347.5 L80.89 370.17 A30.5 30.5 0 0 1 71.26 352.80 Z" fill="#4676c6" stroke="#fff" stroke-width="0.95"/>
<path d="M101.3 347.5 L71.03 351.22 A30.5 30.5 0 0 1 71.58 340.64 Z" fill="#17243f" stroke="#fff" stroke-width="0.95"/>
<path d="M101.3 347.5 L73.22 335.58 A30.5 30.5 0 0 1 90.87 318.84 Z" fill="#4676c6" stroke="#fff" stroke-width="0.95"/>
<path d="M101.3 347.5 L92.64 318.26 A30.5 30.5 0 0 1 93.41 318.04 Z" fill="#9eb8e0" stroke="#fff" stroke-width="0.15"/>
<path d="M101.3 347.5 L96.00 317.46 A30.5 30.5 0 0 1 98.91 317.09 Z" fill="#5aaad6" stroke="#fff" stroke-width="0.95"/>
<circle cx="169.7" cy="347.6" r="30.6" fill="#fff"/>
<path d="M169.7 347.6 L170.77 317.02 A30.6 30.6 0 0 1 174.75 317.42 Z" fill="#4676c6" stroke="#fff" stroke-width="0.95"/>
<path d="M169.7 347.6 L176.58 317.78 A30.6 30.6 0 0 1 186.81 322.23 Z" fill="#17243f" stroke="#fff" stroke-width="0.95"/>
<path d="M169.7 347.6 L187.69 322.84 A30.6 30.6 0 0 1 196.72 333.23 Z" fill="#96ba22" stroke="#fff" stroke-width="0.95"/>
<path d="M169.7 347.6 L197.20 334.19 A30.6 30.6 0 0 1 199.11 339.17 Z" fill="#861816" stroke="#fff" stroke-width="0.95"/>
<path d="M169.7 347.6 L199.74 341.76 A30.6 30.6 0 0 1 200.27 346.27 Z" fill="#5aaad6" stroke="#fff" stroke-width="0.95"/>
<path d="M169.7 347.6 L200.30 347.33 A30.6 30.6 0 0 1 200.26 349.20 Z" fill="#5a1040" stroke="#fff" stroke-width="0.15"/>
<path d="M169.7 347.6 L200.16 350.53 A30.6 30.6 0 0 1 200.00 351.86 Z" fill="#e88a36" stroke="#fff" stroke-width="0.15"/>
<path d="M169.7 347.6 L199.74 353.44 A30.6 30.6 0 0 1 198.45 358.07 Z" fill="#9eb8e0" stroke="#fff" stroke-width="0.95"/>
<path d="M169.7 347.6 L196.84 361.73 A30.6 30.6 0 0 1 186.59 373.12 Z" fill="#4676c6" stroke="#fff" stroke-width="0.95"/>
<path d="M169.7 347.6 L182.15 375.55 A30.6 30.6 0 0 1 172.63 378.06 Z" fill="#96ba22" stroke="#fff" stroke-width="0.95"/>
<path d="M169.7 347.6 L171.30 378.16 A30.6 30.6 0 0 1 165.71 377.94 Z" fill="#861816" stroke="#fff" stroke-width="0.95"/>
<path d="M169.7 347.6 L164.12 377.69 A30.6 30.6 0 0 1 163.34 377.53 Z" fill="#9eb8e0" stroke="#fff" stroke-width="0.15"/>
<path d="M169.7 347.6 L160.75 376.86 A30.6 30.6 0 0 1 155.57 374.74 Z" fill="#a8c060" stroke="#fff" stroke-width="0.95"/>
<path d="M169.7 347.6 L153.94 373.83 A30.6 30.6 0 0 1 153.26 373.41 Z" fill="#c0b0d8" stroke="#fff" stroke-width="0.15"/>
<path d="M169.7 347.6 L152.15 372.67 A30.6 30.6 0 0 1 151.50 372.20 Z" fill="#c0b0d8" stroke="#fff" stroke-width="0.15"/>
<path d="M169.7 347.6 L149.22 370.34 A30.6 30.6 0 0 1 139.16 345.73 Z" fill="#861816" stroke="#fff" stroke-width="0.95"/>
<path d="M169.7 347.6 L140.01 340.20 A30.6 30.6 0 0 1 140.68 337.89 Z" fill="#861816" stroke="#fff" stroke-width="0.15"/>
<path d="M169.7 347.6 L142.94 332.76 A30.6 30.6 0 0 1 155.57 320.46 Z" fill="#96ba22" stroke="#fff" stroke-width="0.95"/>
<path d="M169.7 347.6 L157.25 319.65 A30.6 30.6 0 0 1 157.99 319.33 Z" fill="#9eb8e0" stroke="#fff" stroke-width="0.15"/>
<path d="M169.7 347.6 L160.24 318.50 A30.6 30.6 0 0 1 162.30 317.91 Z" fill="#9eb8e0" stroke="#fff" stroke-width="0.15"/>
<path d="M169.7 347.6 L163.86 317.56 A30.6 30.6 0 0 1 165.44 317.30 Z" fill="#861816" stroke="#fff" stroke-width="0.15"/>
<circle cx="102.2" cy="439.6" r="30.5" fill="#fff"/>
<path d="M102.2 439.6 L103.26 409.12 A30.5 30.5 0 0 1 123.95 418.22 Z" fill="#17243f" stroke="#fff" stroke-width="0.95"/>
<path d="M102.2 439.6 L124.51 418.80 A30.5 30.5 0 0 1 128.34 423.89 Z" fill="#96ba22" stroke="#fff" stroke-width="0.95"/>
<path d="M102.2 439.6 L129.61 426.23 A30.5 30.5 0 0 1 132.47 435.88 Z" fill="#5aaad6" stroke="#fff" stroke-width="0.95"/>
<path d="M102.2 439.6 L132.63 437.47 A30.5 30.5 0 0 1 132.70 440.13 Z" fill="#e88a36" stroke="#fff" stroke-width="0.15"/>
<path d="M102.2 439.6 L132.63 441.73 A30.5 30.5 0 0 1 132.40 443.84 Z" fill="#9eb8e0" stroke="#fff" stroke-width="0.15"/>
<path d="M102.2 439.6 L132.24 444.90 A30.5 30.5 0 0 1 131.86 446.72 Z" fill="#861816" stroke="#fff" stroke-width="0.15"/>
<path d="M102.2 439.6 L131.21 449.03 A30.5 30.5 0 0 1 124.14 460.79 Z" fill="#4676c6" stroke="#fff" stroke-width="0.95"/>
<path d="M102.2 439.6 L120.98 463.63 A30.5 30.5 0 0 1 102.20 470.10 Z" fill="#96ba22" stroke="#fff" stroke-width="0.95"/>
<path d="M102.2 439.6 L101.40 470.09 A30.5 30.5 0 0 1 95.08 469.26 Z" fill="#861816" stroke="#fff" stroke-width="0.95"/>
<path d="M102.2 439.6 L89.31 467.24 A30.5 30.5 0 0 1 84.27 464.28 Z" fill="#a8c060" stroke="#fff" stroke-width="0.95"/>
<path d="M102.2 439.6 L82.59 462.96 A30.5 30.5 0 0 1 81.79 462.27 Z" fill="#5c98a8" stroke="#fff" stroke-width="0.15"/>
<path d="M102.2 439.6 L80.82 461.35 A30.5 30.5 0 0 1 80.08 460.59 Z" fill="#5c98a8" stroke="#fff" stroke-width="0.15"/>
<path d="M102.2 439.6 L77.84 457.96 A30.5 30.5 0 0 1 74.12 451.52 Z" fill="#861816" stroke="#fff" stroke-width="0.95"/>
<path d="M102.2 439.6 L72.88 448.01 A30.5 30.5 0 0 1 72.48 446.46 Z" fill="#5c98a8" stroke="#fff" stroke-width="0.15"/>
<path d="M102.2 439.6 L72.04 444.11 A30.5 30.5 0 0 1 71.90 443.05 Z" fill="#9eb8e0" stroke="#fff" stroke-width="0.15"/>
<path d="M102.2 439.6 L71.70 439.07 A30.5 30.5 0 0 1 72.67 431.96 Z" fill="#861816" stroke="#fff" stroke-width="0.95"/>
<path d="M102.2 439.6 L74.34 427.19 A30.5 30.5 0 0 1 77.22 422.11 Z" fill="#9eb8e0" stroke="#fff" stroke-width="0.95"/>
<path d="M102.2 439.6 L78.50 420.41 A30.5 30.5 0 0 1 79.71 418.99 Z" fill="#861816" stroke="#fff" stroke-width="0.15"/>
<path d="M102.2 439.6 L81.01 417.66 A30.5 30.5 0 0 1 95.86 409.77 Z" fill="#a8c060" stroke="#fff" stroke-width="0.95"/>
<path d="M102.2 439.6 L97.43 409.48 A30.5 30.5 0 0 1 98.48 409.33 Z" fill="#5aaad6" stroke="#fff" stroke-width="0.15"/>
<path d="M102.2 439.6 L99.54 409.22 A30.5 30.5 0 0 1 100.60 409.14 Z" fill="#17243f" stroke="#fff" stroke-width="0.15"/>
<path d="M102.2 439.6 L101.14 409.12 A30.5 30.5 0 0 1 101.93 409.10 Z" fill="#17243f" stroke="#fff" stroke-width="0.15"/>
<circle cx="171.1" cy="439.5" r="30.4" fill="#fff"/>
<path d="M171.1 439.5 L172.16 409.12 A30.4 30.4 0 0 1 182.98 411.52 Z" fill="#17243f" stroke="#fff" stroke-width="0.95"/>
<path d="M171.1 439.5 L183.95 411.95 A30.4 30.4 0 0 1 185.14 412.53 Z" fill="#a8c060" stroke="#fff" stroke-width="0.15"/>
<path d="M171.1 439.5 L188.10 414.30 A30.4 30.4 0 0 1 200.17 430.61 Z" fill="#5aaad6" stroke="#fff" stroke-width="0.95"/>
<path d="M171.1 439.5 L200.66 432.40 A30.4 30.4 0 0 1 201.38 442.15 Z" fill="#e88a36" stroke="#fff" stroke-width="0.95"/>
<path d="M171.1 439.5 L201.08 444.52 A30.4 30.4 0 0 1 200.84 445.82 Z" fill="#861816" stroke="#fff" stroke-width="0.15"/>
<path d="M171.1 439.5 L200.60 446.85 A30.4 30.4 0 0 1 200.25 448.13 Z" fill="#9eb8e0" stroke="#fff" stroke-width="0.15"/>
<path d="M171.1 439.5 L199.67 449.90 A30.4 30.4 0 0 1 195.54 457.58 Z" fill="#4676c6" stroke="#fff" stroke-width="0.95"/>
<path d="M171.1 439.5 L194.04 459.44 A30.4 30.4 0 0 1 181.25 468.16 Z" fill="#96ba22" stroke="#fff" stroke-width="0.95"/>
<path d="M171.1 439.5 L180.49 468.41 A30.4 30.4 0 0 1 179.22 468.79 Z" fill="#861816" stroke="#fff" stroke-width="0.15"/>
<path d="M171.1 439.5 L176.64 469.39 A30.4 30.4 0 0 1 175.59 469.57 Z" fill="#17243f" stroke="#fff" stroke-width="0.15"/>
<path d="M171.1 439.5 L172.43 469.87 A30.4 30.4 0 0 1 169.51 469.86 Z" fill="#17243f" stroke="#fff" stroke-width="0.95"/>
<path d="M171.1 439.5 L167.92 469.73 A30.4 30.4 0 0 1 167.13 469.64 Z" fill="#c0b0d8" stroke="#fff" stroke-width="0.15"/>
<path d="M171.1 439.5 L165.56 469.39 A30.4 30.4 0 0 1 164.78 469.24 Z" fill="#9eb8e0" stroke="#fff" stroke-width="0.15"/>
<path d="M171.1 439.5 L161.71 468.41 A30.4 30.4 0 0 1 146.66 457.58 Z" fill="#3c2274" stroke="#fff" stroke-width="0.95"/>
<path d="M171.1 439.5 L142.53 449.90 A30.4 30.4 0 0 1 143.78 426.17 Z" fill="#e88a36" stroke="#fff" stroke-width="0.95"/>
<path d="M171.1 439.5 L146.35 421.85 A30.4 30.4 0 0 1 147.81 419.96 Z" fill="#17243f" stroke="#fff" stroke-width="0.15"/>
<path d="M171.1 439.5 L149.98 417.63 A30.4 30.4 0 0 1 164.78 409.76 Z" fill="#96ba22" stroke="#fff" stroke-width="0.95"/>
<path d="M171.1 439.5 L166.34 409.47 A30.4 30.4 0 0 1 167.40 409.33 Z" fill="#9eb8e0" stroke="#fff" stroke-width="0.15"/>
<path d="M171.1 439.5 L168.71 409.19 A30.4 30.4 0 0 1 169.51 409.14 Z" fill="#9eb8e0" stroke="#fff" stroke-width="0.15"/>
<text x="99.8" y="313.6" font-size="9.4" text-anchor="middle" font-weight="bold" fill="#151515" stroke="#151515" stroke-width="0.1">#1</text>
<text x="169.3" y="313.6" font-size="9.4" text-anchor="middle" font-weight="bold" fill="#151515" stroke="#151515" stroke-width="0.1">#2</text>
<text x="101.5" y="405.6" font-size="9.4" text-anchor="middle" font-weight="bold" fill="#151515" stroke="#151515" stroke-width="0.1">#1</text>
<text x="170" y="405.6" font-size="9.4" text-anchor="middle" font-weight="bold" fill="#151515" stroke="#151515" stroke-width="0.1">#2</text>
<text x="98.8" y="387.4" font-size="9.7" text-anchor="middle" font-weight="normal" fill="#151515" stroke="#151515" stroke-width="0.32"><tspan font-style="italic">D</tspan> = 0.24</text>
<text x="169.2" y="387.4" font-size="9.7" text-anchor="middle" font-weight="normal" fill="#151515" stroke="#151515" stroke-width="0.32"><tspan font-style="italic">D</tspan> = 0.14</text>
<text x="100.3" y="479.6" font-size="9.7" text-anchor="middle" font-weight="normal" fill="#151515" stroke="#151515" stroke-width="0.32"><tspan font-style="italic">D</tspan> = 0.16</text>
<text x="170.3" y="479.6" font-size="9.7" text-anchor="middle" font-weight="normal" fill="#151515" stroke="#151515" stroke-width="0.32"><tspan font-style="italic">D</tspan> = 0.18</text>
<text x="62" y="346" font-size="9.5" text-anchor="end" font-weight="normal" fill="#151515" stroke="#151515" stroke-width="0.32">NSG</text>
<text x="61.6" y="443" font-size="9.5" text-anchor="end" font-weight="normal" fill="#151515" stroke="#151515" stroke-width="0.32">NSGAb<tspan dx="0.3" dy="-3.6" font-size="6.6">o</tspan><tspan dy="3.6" dx="0.7" font-size="0.1"> </tspan>DR1</text>
<text transform="translate(291.6 307.1) scale(1.17 1)" font-size="14.6" font-weight="bold" fill="#000" stroke="#000" stroke-width="0.5">E</text>
<line x1="351.5" y1="303.1" x2="351.5" y2="378.5" stroke="#151515" stroke-width="1.1"/>
<line x1="350.5" y1="378.5" x2="463.4" y2="378.5" stroke="#151515" stroke-width="1.1"/>
<line x1="349" y1="303.5" x2="351" y2="303.5" stroke="#151515" stroke-width="1"/>
<text x="348.8" y="307.20000000000005" font-size="9.7" text-anchor="end" font-weight="normal" fill="#151515" stroke="#151515" stroke-width="0.32">1.5x10<tspan dy="-5" font-size="6.4">5</tspan></text>
<line x1="349" y1="328.5" x2="351" y2="328.5" stroke="#151515" stroke-width="1"/>
<text x="348.8" y="332.00000000000006" font-size="9.7" text-anchor="end" font-weight="normal" fill="#151515" stroke="#151515" stroke-width="0.32">1.0x10<tspan dy="-5" font-size="6.4">5</tspan></text>
<line x1="349" y1="353.5" x2="351" y2="353.5" stroke="#151515" stroke-width="1"/>
<text x="348.8" y="356.8" font-size="9.7" text-anchor="end" font-weight="normal" fill="#151515" stroke="#151515" stroke-width="0.32">0.5x10<tspan dy="-5" font-size="6.4">5</tspan></text>
<text x="349" y="380.6" font-size="9.4" text-anchor="end" font-weight="normal" fill="#151515" stroke="#151515" stroke-width="0.32">0</text>
<line x1="373.5" y1="378" x2="373.5" y2="380.2" stroke="#151515" stroke-width="1"/>
<line x1="395.5" y1="378" x2="395.5" y2="380.2" stroke="#151515" stroke-width="1"/>
<line x1="417.5" y1="378" x2="417.5" y2="380.2" stroke="#151515" stroke-width="1"/>
<line x1="440.5" y1="378" x2="440.5" y2="380.2" stroke="#151515" stroke-width="1"/>
<line x1="462.5" y1="378" x2="462.5" y2="380.2" stroke="#151515" stroke-width="1"/>
<path d="M376.95 378 Q378.15 374.35 379.45 368.40 L380.45 368.40 Q381.75 374.35 382.95 378 Z" fill="#111"/>
<path d="M383.66 378 Q384.86 370.02 386.16 357.00 L387.16 357.00 Q388.46 370.02 389.66 378 Z" fill="#111"/>
<path d="M390.36 378 Q391.56 361.43 392.86 334.40 L393.86 334.40 Q395.16 361.43 396.36 378 Z" fill="#111"/>
<path d="M397.07 378 Q398.27 355.43 399.57 318.60 L400.57 318.60 Q401.87 355.43 403.07 378 Z" fill="#111"/>
<path d="M403.77 378 Q404.97 362.57 406.27 337.40 L407.27 337.40 Q408.57 362.57 409.77 378 Z" fill="#111"/>
<path d="M410.48 378 Q411.68 368.12 412.98 352.00 L413.98 352.00 Q415.28 368.12 416.48 378 Z" fill="#111"/>
<path d="M417.18 378 Q418.38 373.82 419.68 367.00 L420.68 367.00 Q421.98 373.82 423.18 378 Z" fill="#111"/>
<path d="M424.39 378 Q425.09 376.48 426.39 374.00 L427.39 374.00 Q428.69 376.48 429.39 378 Z" fill="#111"/>
<path d="M431.09 378 Q431.79 377.39 433.09 376.40 L434.09 376.40 Q435.39 377.39 436.09 378 Z" fill="#111"/>
<line x1="351.5" y1="397.1" x2="351.5" y2="472.5" stroke="#151515" stroke-width="1.1"/>
<line x1="350.5" y1="472.5" x2="463.4" y2="472.5" stroke="#151515" stroke-width="1.1"/>
<line x1="349" y1="397.5" x2="351" y2="397.5" stroke="#151515" stroke-width="1"/>
<text x="348.8" y="401.20000000000005" font-size="9.7" text-anchor="end" font-weight="normal" fill="#151515" stroke="#151515" stroke-width="0.32">1.5x10<tspan dy="-5" font-size="6.4">5</tspan></text>
<line x1="349" y1="422.5" x2="351" y2="422.5" stroke="#151515" stroke-width="1"/>
<text x="348.8" y="426.00000000000006" font-size="9.7" text-anchor="end" font-weight="normal" fill="#151515" stroke="#151515" stroke-width="0.32">1.0x10<tspan dy="-5" font-size="6.4">5</tspan></text>
<line x1="349" y1="447.5" x2="351" y2="447.5" stroke="#151515" stroke-width="1"/>
<text x="348.8" y="450.8" font-size="9.7" text-anchor="end" font-weight="normal" fill="#151515" stroke="#151515" stroke-width="0.32">0.5x10<tspan dy="-5" font-size="6.4">5</tspan></text>
<text x="349" y="474.6" font-size="9.4" text-anchor="end" font-weight="normal" fill="#151515" stroke="#151515" stroke-width="0.32">0</text>
<text x="352.7" y="482.2" font-size="9.4" text-anchor="middle" font-weight="normal" fill="#151515" stroke="#151515" stroke-width="0.32">20</text>
<line x1="373.5" y1="472" x2="373.5" y2="474.2" stroke="#151515" stroke-width="1"/>
<text x="373.25" y="482.2" font-size="9.4" text-anchor="middle" font-weight="normal" fill="#151515" stroke="#151515" stroke-width="0.32">30</text>
<line x1="395.5" y1="472" x2="395.5" y2="474.2" stroke="#151515" stroke-width="1"/>
<text x="395.59999999999997" y="482.2" font-size="9.4" text-anchor="middle" font-weight="normal" fill="#151515" stroke="#151515" stroke-width="0.32">40</text>
<line x1="417.5" y1="472" x2="417.5" y2="474.2" stroke="#151515" stroke-width="1"/>
<text x="417.95" y="482.2" font-size="9.4" text-anchor="middle" font-weight="normal" fill="#151515" stroke="#151515" stroke-width="0.32">50</text>
<line x1="440.5" y1="472" x2="440.5" y2="474.2" stroke="#151515" stroke-width="1"/>
<text x="440.29999999999995" y="482.2" font-size="9.4" text-anchor="middle" font-weight="normal" fill="#151515" stroke="#151515" stroke-width="0.32">60</text>
<line x1="462.5" y1="472" x2="462.5" y2="474.2" stroke="#151515" stroke-width="1"/>
<text x="462.65" y="482.2" font-size="9.4" text-anchor="middle" font-weight="normal" fill="#151515" stroke="#151515" stroke-width="0.32">70</text>
<path d="M370.75 472 Q371.45 471.43 372.75 470.50 L373.75 470.50 Q375.05 471.43 375.75 472 Z" fill="#c22c1c"/>
<path d="M377.45 472 Q378.15 469.87 379.45 466.40 L380.45 466.40 Q381.75 469.87 382.45 472 Z" fill="#c22c1c"/>
<path d="M383.66 472 Q384.86 465.01 386.16 453.60 L387.16 453.60 Q388.46 465.01 389.66 472 Z" fill="#c22c1c"/>
<path d="M390.36 472 Q391.56 455.13 392.86 427.60 L393.86 427.60 Q395.16 455.13 396.36 472 Z" fill="#c22c1c"/>
<path d="M397.07 472 Q398.27 450.34 399.57 415.00 L400.57 415.00 Q401.87 450.34 403.07 472 Z" fill="#c22c1c"/>
<path d="M403.77 472 Q404.97 446.31 406.27 404.40 L407.27 404.40 Q408.57 446.31 409.77 472 Z" fill="#c22c1c"/>
<path d="M410.48 472 Q411.68 456.65 412.98 431.60 L413.98 431.60 Q415.28 456.65 416.48 472 Z" fill="#c22c1c"/>
<path d="M417.18 472 Q418.38 467.44 419.68 460.00 L420.68 460.00 Q421.98 467.44 423.18 472 Z" fill="#c22c1c"/>
<path d="M424.39 472 Q425.09 470.25 426.39 467.40 L427.39 467.40 Q428.69 470.25 429.39 472 Z" fill="#c22c1c"/>
<path d="M431.09 472 Q431.79 471.09 433.09 469.60 L434.09 469.60 Q435.39 471.09 436.09 472 Z" fill="#c22c1c"/>
<path d="M437.80 472 Q438.50 471.39 439.80 470.40 L440.80 470.40 Q442.10 471.39 442.80 472 Z" fill="#c22c1c"/>
<path d="M444.50 472 Q445.20 471.39 446.50 470.40 L447.50 470.40 Q448.81 471.39 449.50 472 Z" fill="#c22c1c"/>
<rect x="351.5" y="471.2" width="100" height="1.3" fill="#c22c1c"/>
<text x="313" y="333.5" font-size="9.4" text-anchor="middle" font-weight="normal" fill="#151515" stroke="#151515" stroke-width="0.32" transform="rotate(-90 313 333.5)">Counts</text>
<text x="313" y="429" font-size="9.4" text-anchor="middle" font-weight="normal" fill="#151515" stroke="#151515" stroke-width="0.32" transform="rotate(-90 313 429)">Counts</text>
<text x="432.4" y="317" font-size="9.4" text-anchor="start" font-weight="normal" fill="#151515" stroke="#151515" stroke-width="0.32">NSG</text>
<text x="432.4" y="332.4" font-size="9.4" text-anchor="start" font-weight="normal" fill="#151515" stroke="#151515" stroke-width="0.32"><tspan font-style="italic">R</tspan><tspan dy="-5.2" font-size="6.4">2</tspan><tspan dy="5.2">= 0.95</tspan></text>
<text x="432.4" y="411" font-size="9.4" text-anchor="start" font-weight="normal" fill="#151515" stroke="#151515" stroke-width="0.32">NSGAb<tspan dx="0.2" dy="-3.6" font-size="6.6">o</tspan><tspan dy="3.6" dx="0.6000000000000001" font-size="0.1"> </tspan>DR1</text>
<text x="432.4" y="430" font-size="9.4" text-anchor="start" font-weight="normal" fill="#151515" stroke="#151515" stroke-width="0.32"><tspan font-style="italic">R</tspan><tspan dy="-5.2" font-size="6.4">2</tspan><tspan dy="5.2">= 0.98</tspan></text>
<text x="408.7" y="497.6" font-size="10" text-anchor="middle" font-weight="normal" fill="#151515" stroke="#151515" stroke-width="0.32">CDR3 length (nt)</text>
<text transform="translate(-1 531.5) scale(1.17 1)" font-size="14.6" font-weight="bold" fill="#000" stroke="#000" stroke-width="0.5">F</text>
<line x1="63.5" y1="543" x2="63.5" y2="661" stroke="#151515" stroke-width="1.1"/>
<line x1="63" y1="660.5" x2="297.6" y2="660.5" stroke="#151515" stroke-width="1.1"/>
<line x1="71.5" y1="660.4" x2="71.5" y2="663" stroke="#151515" stroke-width="1"/>
<text x="70.7" y="672.3" font-size="9.5" text-anchor="middle" font-weight="normal" fill="#151515" stroke="#151515" stroke-width="0.32">0</text>
<line x1="103.5" y1="660.4" x2="103.5" y2="663" stroke="#151515" stroke-width="1"/>
<text x="102.97000000000001" y="672.3" font-size="9.5" text-anchor="middle" font-weight="normal" fill="#151515" stroke="#151515" stroke-width="0.32">1</text>
<line x1="135.5" y1="660.4" x2="135.5" y2="663" stroke="#151515" stroke-width="1"/>
<text x="135.24" y="672.3" font-size="9.5" text-anchor="middle" font-weight="normal" fill="#151515" stroke="#151515" stroke-width="0.32">2</text>
<line x1="167.5" y1="660.4" x2="167.5" y2="663" stroke="#151515" stroke-width="1"/>
<text x="167.51" y="672.3" font-size="9.5" text-anchor="middle" font-weight="normal" fill="#151515" stroke="#151515" stroke-width="0.32">3</text>
<line x1="200.5" y1="660.4" x2="200.5" y2="663" stroke="#151515" stroke-width="1"/>
<text x="199.78" y="672.3" font-size="9.5" text-anchor="middle" font-weight="normal" fill="#151515" stroke="#151515" stroke-width="0.32">4</text>
<line x1="232.5" y1="660.4" x2="232.5" y2="663" stroke="#151515" stroke-width="1"/>
<text x="232.05" y="672.3" font-size="9.5" text-anchor="middle" font-weight="normal" fill="#151515" stroke="#151515" stroke-width="0.32">5</text>
<line x1="264.5" y1="660.4" x2="264.5" y2="663" stroke="#151515" stroke-width="1"/>
<text x="264.32" y="672.3" font-size="9.5" text-anchor="middle" font-weight="normal" fill="#151515" stroke="#151515" stroke-width="0.32">6</text>
<line x1="296.5" y1="660.4" x2="296.5" y2="663" stroke="#151515" stroke-width="1"/>
<text x="296.59" y="672.3" font-size="9.5" text-anchor="middle" font-weight="normal" fill="#151515" stroke="#151515" stroke-width="0.32">7</text>
<line x1="62" y1="572.5" x2="63.6" y2="572.5" stroke="#151515" stroke-width="1"/>
<line x1="62" y1="631.5" x2="63.6" y2="631.5" stroke="#151515" stroke-width="1"/>
<line x1="71" y1="543.5" x2="71" y2="659" stroke="#111" stroke-width="1.4" stroke-dasharray="1.4 2.8"/>
<text x="55.6" y="575.8" font-size="9.1" text-anchor="end" font-weight="normal" fill="#151515" stroke="#151515" stroke-width="0.32">NSG</text>
<text x="53" y="634.2" font-size="9.1" text-anchor="end" font-weight="normal" fill="#151515" stroke="#151515" stroke-width="0.32">NSGAb<tspan dx="0.3" dy="-3.6" font-size="6.6">o</tspan><tspan dy="3.6" dx="0.7" font-size="0.1"> </tspan>DR1</text>
<text x="192.5" y="691" font-size="10" text-anchor="middle" font-weight="normal" fill="#151515" stroke="#151515" stroke-width="0.32">Frequency (%)</text>
<circle cx="84.0" cy="556.0" r="1.42" fill="#fff" stroke="#111" stroke-width="1.2"/>
<circle cx="83.5" cy="557.1" r="1.42" fill="#fff" stroke="#111" stroke-width="1.2"/>
<circle cx="83.1" cy="558.2" r="1.42" fill="#fff" stroke="#111" stroke-width="1.2"/>
<circle cx="82.7" cy="559.3" r="1.42" fill="#fff" stroke="#111" stroke-width="1.2"/>
<circle cx="82.3" cy="560.4" r="1.42" fill="#fff" stroke="#111" stroke-width="1.2"/>
<circle cx="82.0" cy="561.5" r="1.42" fill="#fff" stroke="#111" stroke-width="1.2"/>
<circle cx="81.7" cy="562.6" r="1.42" fill="#fff" stroke="#111" stroke-width="1.2"/>
<circle cx="81.4" cy="563.7" r="1.42" fill="#fff" stroke="#111" stroke-width="1.2"/>
<circle cx="81.2" cy="564.8" r="1.42" fill="#fff" stroke="#111" stroke-width="1.2"/>
<circle cx="81.0" cy="565.9" r="1.42" fill="#fff" stroke="#111" stroke-width="1.2"/>
<circle cx="80.8" cy="567.0" r="1.42" fill="#fff" stroke="#111" stroke-width="1.2"/>
<circle cx="80.7" cy="568.1" r="1.42" fill="#fff" stroke="#111" stroke-width="1.2"/>
<circle cx="80.5" cy="569.2" r="1.42" fill="#fff" stroke="#111" stroke-width="1.2"/>
<circle cx="80.5" cy="570.3" r="1.42" fill="#fff" stroke="#111" stroke-width="1.2"/>
<circle cx="80.4" cy="571.4" r="1.42" fill="#fff" stroke="#111" stroke-width="1.2"/>
<circle cx="80.4" cy="572.5" r="1.42" fill="#fff" stroke="#111" stroke-width="1.2"/>
<circle cx="80.4" cy="573.6" r="1.42" fill="#fff" stroke="#111" stroke-width="1.2"/>
<circle cx="80.5" cy="574.7" r="1.42" fill="#fff" stroke="#111" stroke-width="1.2"/>
<circle cx="80.5" cy="575.8" r="1.42" fill="#fff" stroke="#111" stroke-width="1.2"/>
<circle cx="80.7" cy="576.9" r="1.42" fill="#fff" stroke="#111" stroke-width="1.2"/>
<circle cx="80.8" cy="578.0" r="1.42" fill="#fff" stroke="#111" stroke-width="1.2"/>
<circle cx="81.0" cy="579.1" r="1.42" fill="#fff" stroke="#111" stroke-width="1.2"/>
<circle cx="81.2" cy="580.2" r="1.42" fill="#fff" stroke="#111" stroke-width="1.2"/>
<circle cx="81.4" cy="581.3" r="1.42" fill="#fff" stroke="#111" stroke-width="1.2"/>
<circle cx="81.7" cy="582.4" r="1.42" fill="#fff" stroke="#111" stroke-width="1.2"/>
<circle cx="82.0" cy="583.5" r="1.42" fill="#fff" stroke="#111" stroke-width="1.2"/>
<circle cx="82.3" cy="584.6" r="1.42" fill="#fff" stroke="#111" stroke-width="1.2"/>
<circle cx="82.7" cy="585.7" r="1.42" fill="#fff" stroke="#111" stroke-width="1.2"/>
<circle cx="83.1" cy="586.8" r="1.42" fill="#fff" stroke="#111" stroke-width="1.2"/>
<circle cx="83.5" cy="587.9" r="1.42" fill="#fff" stroke="#111" stroke-width="1.2"/>
<circle cx="84.0" cy="589.0" r="1.42" fill="#fff" stroke="#111" stroke-width="1.2"/>
<circle cx="86.8" cy="556.0" r="1.42" fill="#fff" stroke="#111" stroke-width="1.2"/>
<circle cx="86.4" cy="557.1" r="1.42" fill="#fff" stroke="#111" stroke-width="1.2"/>
<circle cx="86.0" cy="558.2" r="1.42" fill="#fff" stroke="#111" stroke-width="1.2"/>
<circle cx="85.6" cy="559.3" r="1.42" fill="#fff" stroke="#111" stroke-width="1.2"/>
<circle cx="85.3" cy="560.4" r="1.42" fill="#fff" stroke="#111" stroke-width="1.2"/>
<circle cx="85.0" cy="561.5" r="1.42" fill="#fff" stroke="#111" stroke-width="1.2"/>
<circle cx="84.8" cy="562.6" r="1.42" fill="#fff" stroke="#111" stroke-width="1.2"/>
<circle cx="84.5" cy="563.7" r="1.42" fill="#fff" stroke="#111" stroke-width="1.2"/>
<circle cx="84.3" cy="564.8" r="1.42" fill="#fff" stroke="#111" stroke-width="1.2"/>
<circle cx="84.1" cy="565.9" r="1.42" fill="#fff" stroke="#111" stroke-width="1.2"/>
<circle cx="84.0" cy="567.0" r="1.42" fill="#fff" stroke="#111" stroke-width="1.2"/>
<circle cx="83.8" cy="568.1" r="1.42" fill="#fff" stroke="#111" stroke-width="1.2"/>
<circle cx="83.7" cy="569.2" r="1.42" fill="#fff" stroke="#111" stroke-width="1.2"/>
<circle cx="83.7" cy="570.3" r="1.42" fill="#fff" stroke="#111" stroke-width="1.2"/>
<circle cx="83.6" cy="571.4" r="1.42" fill="#fff" stroke="#111" stroke-width="1.2"/>
<circle cx="83.6" cy="572.5" r="1.42" fill="#fff" stroke="#111" stroke-width="1.2"/>
<circle cx="83.6" cy="573.6" r="1.42" fill="#fff" stroke="#111" stroke-width="1.2"/>
<circle cx="83.7" cy="574.7" r="1.42" fill="#fff" stroke="#111" stroke-width="1.2"/>
<circle cx="83.7" cy="575.8" r="1.42" fill="#fff" stroke="#111" stroke-width="1.2"/>
<circle cx="83.8" cy="576.9" r="1.42" fill="#fff" stroke="#111" stroke-width="1.2"/>
<circle cx="84.0" cy="578.0" r="1.42" fill="#fff" stroke="#111" stroke-width="1.2"/>
<circle cx="84.1" cy="579.1" r="1.42" fill="#fff" stroke="#111" stroke-width="1.2"/>
<circle cx="84.3" cy="580.2" r="1.42" fill="#fff" stroke="#111" stroke-width="1.2"/>
<circle cx="84.5" cy="581.3" r="1.42" fill="#fff" stroke="#111" stroke-width="1.2"/>
<circle cx="84.8" cy="582.4" r="1.42" fill="#fff" stroke="#111" stroke-width="1.2"/>
<circle cx="85.0" cy="583.5" r="1.42" fill="#fff" stroke="#111" stroke-width="1.2"/>
<circle cx="85.3" cy="584.6" r="1.42" fill="#fff" stroke="#111" stroke-width="1.2"/>
<circle cx="85.6" cy="585.7" r="1.42" fill="#fff" stroke="#111" stroke-width="1.2"/>
<circle cx="86.0" cy="586.8" r="1.42" fill="#fff" stroke="#111" stroke-width="1.2"/>
<circle cx="86.4" cy="587.9" r="1.42" fill="#fff" stroke="#111" stroke-width="1.2"/>
<circle cx="86.8" cy="589.0" r="1.42" fill="#fff" stroke="#111" stroke-width="1.2"/>
<circle cx="88.7" cy="556.0" r="1.42" fill="#fff" stroke="#111" stroke-width="1.2"/>
<circle cx="88.2" cy="557.5" r="1.42" fill="#fff" stroke="#111" stroke-width="1.2"/>
<circle cx="87.8" cy="559.0" r="1.42" fill="#fff" stroke="#111" stroke-width="1.2"/>
<circle cx="87.5" cy="560.5" r="1.42" fill="#fff" stroke="#111" stroke-width="1.2"/>
<circle cx="87.2" cy="562.0" r="1.42" fill="#fff" stroke="#111" stroke-width="1.2"/>
<circle cx="86.9" cy="563.5" r="1.42" fill="#fff" stroke="#111" stroke-width="1.2"/>
<circle cx="86.6" cy="565.0" r="1.42" fill="#fff" stroke="#111" stroke-width="1.2"/>
<circle cx="86.4" cy="566.5" r="1.42" fill="#fff" stroke="#111" stroke-width="1.2"/>
<circle cx="86.3" cy="568.0" r="1.42" fill="#fff" stroke="#111" stroke-width="1.2"/>
<circle cx="86.2" cy="569.5" r="1.42" fill="#fff" stroke="#111" stroke-width="1.2"/>
<circle cx="86.1" cy="571.0" r="1.42" fill="#fff" stroke="#111" stroke-width="1.2"/>
<circle cx="86.1" cy="572.5" r="1.42" fill="#fff" stroke="#111" stroke-width="1.2"/>
<circle cx="86.1" cy="574.0" r="1.42" fill="#fff" stroke="#111" stroke-width="1.2"/>
<circle cx="86.2" cy="575.5" r="1.42" fill="#fff" stroke="#111" stroke-width="1.2"/>
<circle cx="86.3" cy="577.0" r="1.42" fill="#fff" stroke="#111" stroke-width="1.2"/>
<circle cx="86.4" cy="578.5" r="1.42" fill="#fff" stroke="#111" stroke-width="1.2"/>
<circle cx="86.6" cy="580.0" r="1.42" fill="#fff" stroke="#111" stroke-width="1.2"/>
<circle cx="86.9" cy="581.5" r="1.42" fill="#fff" stroke="#111" stroke-width="1.2"/>
<circle cx="87.2" cy="583.0" r="1.42" fill="#fff" stroke="#111" stroke-width="1.2"/>
<circle cx="87.5" cy="584.5" r="1.42" fill="#fff" stroke="#111" stroke-width="1.2"/>
<circle cx="87.8" cy="586.0" r="1.42" fill="#fff" stroke="#111" stroke-width="1.2"/>
<circle cx="88.2" cy="587.5" r="1.42" fill="#fff" stroke="#111" stroke-width="1.2"/>
<circle cx="88.7" cy="589.0" r="1.42" fill="#fff" stroke="#111" stroke-width="1.2"/>
<circle cx="94.0" cy="558.0" r="1.42" fill="#fff" stroke="#111" stroke-width="1.2"/>
<circle cx="92.4" cy="563.0" r="1.42" fill="#fff" stroke="#111" stroke-width="1.2"/>
<circle cx="91.0" cy="567.4" r="1.42" fill="#fff" stroke="#111" stroke-width="1.2"/>
<circle cx="90.0" cy="572.4" r="1.42" fill="#fff" stroke="#111" stroke-width="1.2"/>
<circle cx="90.4" cy="577.4" r="1.42" fill="#fff" stroke="#111" stroke-width="1.2"/>
<circle cx="92.0" cy="582.0" r="1.42" fill="#fff" stroke="#111" stroke-width="1.2"/>
<circle cx="93.4" cy="586.6" r="1.42" fill="#fff" stroke="#111" stroke-width="1.2"/>
<circle cx="100.0" cy="565.6" r="1.42" fill="#fff" stroke="#111" stroke-width="1.2"/>
<circle cx="102.0" cy="568.0" r="1.42" fill="#fff" stroke="#111" stroke-width="1.2"/>
<circle cx="96.0" cy="570.0" r="1.42" fill="#fff" stroke="#111" stroke-width="1.2"/>
<circle cx="100.0" cy="572.4" r="1.42" fill="#fff" stroke="#111" stroke-width="1.2"/>
<circle cx="95.6" cy="575.0" r="1.42" fill="#fff" stroke="#111" stroke-width="1.2"/>
<circle cx="101.0" cy="577.4" r="1.42" fill="#fff" stroke="#111" stroke-width="1.2"/>
<circle cx="98.0" cy="579.6" r="1.42" fill="#fff" stroke="#111" stroke-width="1.2"/>
<circle cx="106.0" cy="570.0" r="1.42" fill="#fff" stroke="#111" stroke-width="1.2"/>
<circle cx="105.0" cy="575.0" r="1.42" fill="#fff" stroke="#111" stroke-width="1.2"/>
<circle cx="115.0" cy="555.6" r="1.42" fill="#fff" stroke="#111" stroke-width="1.2"/>
<circle cx="113.0" cy="560.0" r="1.42" fill="#fff" stroke="#111" stroke-width="1.2"/>
<circle cx="111.0" cy="563.6" r="1.42" fill="#fff" stroke="#111" stroke-width="1.2"/>
<circle cx="109.4" cy="566.0" r="1.42" fill="#fff" stroke="#111" stroke-width="1.2"/>
<circle cx="110.4" cy="569.0" r="1.42" fill="#fff" stroke="#111" stroke-width="1.2"/>
<circle cx="110.0" cy="572.4" r="1.42" fill="#fff" stroke="#111" stroke-width="1.2"/>
<circle cx="110.4" cy="576.0" r="1.42" fill="#fff" stroke="#111" stroke-width="1.2"/>
<circle cx="110.0" cy="579.4" r="1.42" fill="#fff" stroke="#111" stroke-width="1.2"/>
<circle cx="111.6" cy="582.4" r="1.42" fill="#fff" stroke="#111" stroke-width="1.2"/>
<circle cx="112.4" cy="586.0" r="1.42" fill="#fff" stroke="#111" stroke-width="1.2"/>
<circle cx="114.0" cy="589.6" r="1.42" fill="#fff" stroke="#111" stroke-width="1.2"/>
<circle cx="119.4" cy="565.6" r="1.42" fill="#fff" stroke="#111" stroke-width="1.2"/>
<circle cx="117.0" cy="570.0" r="1.42" fill="#fff" stroke="#111" stroke-width="1.2"/>
<circle cx="116.0" cy="574.4" r="1.42" fill="#fff" stroke="#111" stroke-width="1.2"/>
<circle cx="118.4" cy="579.0" r="1.42" fill="#fff" stroke="#111" stroke-width="1.2"/>
<circle cx="124.0" cy="563.0" r="1.42" fill="#fff" stroke="#111" stroke-width="1.2"/>
<circle cx="121.4" cy="567.4" r="1.42" fill="#fff" stroke="#111" stroke-width="1.2"/>
<circle cx="123.0" cy="575.0" r="1.42" fill="#fff" stroke="#111" stroke-width="1.2"/>
<circle cx="124.0" cy="579.4" r="1.42" fill="#fff" stroke="#111" stroke-width="1.2"/>
<circle cx="126.4" cy="577.4" r="1.42" fill="#fff" stroke="#111" stroke-width="1.2"/>
<circle cx="132.0" cy="567.4" r="1.42" fill="#fff" stroke="#111" stroke-width="1.2"/>
<circle cx="130.4" cy="570.0" r="1.42" fill="#fff" stroke="#111" stroke-width="1.2"/>
<circle cx="135.4" cy="575.0" r="1.42" fill="#fff" stroke="#111" stroke-width="1.2"/>
<circle cx="139.4" cy="572.4" r="1.42" fill="#fff" stroke="#111" stroke-width="1.2"/>
<circle cx="143.6" cy="572.4" r="1.42" fill="#fff" stroke="#111" stroke-width="1.2"/>
<circle cx="156.6" cy="572.4" r="1.42" fill="#fff" stroke="#111" stroke-width="1.2"/>
<circle cx="165.6" cy="572.4" r="1.42" fill="#fff" stroke="#111" stroke-width="1.2"/>
<circle cx="201.6" cy="572.4" r="1.42" fill="#fff" stroke="#111" stroke-width="1.2"/>
<circle cx="226.4" cy="572.4" r="1.42" fill="#fff" stroke="#111" stroke-width="1.2"/>
<circle cx="244.4" cy="572.4" r="1.42" fill="#fff" stroke="#111" stroke-width="1.2"/>
<circle cx="280.0" cy="572.4" r="1.42" fill="#fff" stroke="#111" stroke-width="1.2"/>
<circle cx="82.1" cy="612.3" r="1.42" fill="#fff" stroke="#cc2418" stroke-width="1.2"/>
<circle cx="81.6" cy="613.4" r="1.42" fill="#fff" stroke="#cc2418" stroke-width="1.2"/>
<circle cx="81.1" cy="614.5" r="1.42" fill="#fff" stroke="#cc2418" stroke-width="1.2"/>
<circle cx="80.6" cy="615.6" r="1.42" fill="#fff" stroke="#cc2418" stroke-width="1.2"/>
<circle cx="80.2" cy="616.7" r="1.42" fill="#fff" stroke="#cc2418" stroke-width="1.2"/>
<circle cx="79.8" cy="617.8" r="1.42" fill="#fff" stroke="#cc2418" stroke-width="1.2"/>
<circle cx="79.4" cy="618.9" r="1.42" fill="#fff" stroke="#cc2418" stroke-width="1.2"/>
<circle cx="79.1" cy="620.0" r="1.42" fill="#fff" stroke="#cc2418" stroke-width="1.2"/>
<circle cx="78.8" cy="621.1" r="1.42" fill="#fff" stroke="#cc2418" stroke-width="1.2"/>
<circle cx="78.5" cy="622.2" r="1.42" fill="#fff" stroke="#cc2418" stroke-width="1.2"/>
<circle cx="78.3" cy="623.3" r="1.42" fill="#fff" stroke="#cc2418" stroke-width="1.2"/>
<circle cx="78.1" cy="624.4" r="1.42" fill="#fff" stroke="#cc2418" stroke-width="1.2"/>
<circle cx="77.9" cy="625.5" r="1.42" fill="#fff" stroke="#cc2418" stroke-width="1.2"/>
<circle cx="77.8" cy="626.6" r="1.42" fill="#fff" stroke="#cc2418" stroke-width="1.2"/>
<circle cx="77.6" cy="627.7" r="1.42" fill="#fff" stroke="#cc2418" stroke-width="1.2"/>
<circle cx="77.6" cy="628.8" r="1.42" fill="#fff" stroke="#cc2418" stroke-width="1.2"/>
<circle cx="77.5" cy="629.9" r="1.42" fill="#fff" stroke="#cc2418" stroke-width="1.2"/>
<circle cx="77.5" cy="631.0" r="1.42" fill="#fff" stroke="#cc2418" stroke-width="1.2"/>
<circle cx="77.5" cy="632.1" r="1.42" fill="#fff" stroke="#cc2418" stroke-width="1.2"/>
<circle cx="77.6" cy="633.2" r="1.42" fill="#fff" stroke="#cc2418" stroke-width="1.2"/>
<circle cx="77.6" cy="634.3" r="1.42" fill="#fff" stroke="#cc2418" stroke-width="1.2"/>
<circle cx="77.8" cy="635.4" r="1.42" fill="#fff" stroke="#cc2418" stroke-width="1.2"/>
<circle cx="77.9" cy="636.5" r="1.42" fill="#fff" stroke="#cc2418" stroke-width="1.2"/>
<circle cx="78.1" cy="637.6" r="1.42" fill="#fff" stroke="#cc2418" stroke-width="1.2"/>
<circle cx="78.3" cy="638.7" r="1.42" fill="#fff" stroke="#cc2418" stroke-width="1.2"/>
<circle cx="78.5" cy="639.8" r="1.42" fill="#fff" stroke="#cc2418" stroke-width="1.2"/>
<circle cx="78.8" cy="640.9" r="1.42" fill="#fff" stroke="#cc2418" stroke-width="1.2"/>
<circle cx="79.1" cy="642.0" r="1.42" fill="#fff" stroke="#cc2418" stroke-width="1.2"/>
<circle cx="79.4" cy="643.1" r="1.42" fill="#fff" stroke="#cc2418" stroke-width="1.2"/>
<circle cx="79.8" cy="644.2" r="1.42" fill="#fff" stroke="#cc2418" stroke-width="1.2"/>
<circle cx="80.2" cy="645.3" r="1.42" fill="#fff" stroke="#cc2418" stroke-width="1.2"/>
<circle cx="80.6" cy="646.4" r="1.42" fill="#fff" stroke="#cc2418" stroke-width="1.2"/>
<circle cx="81.1" cy="647.5" r="1.42" fill="#fff" stroke="#cc2418" stroke-width="1.2"/>
<circle cx="81.6" cy="648.6" r="1.42" fill="#fff" stroke="#cc2418" stroke-width="1.2"/>
<circle cx="82.1" cy="649.7" r="1.42" fill="#fff" stroke="#cc2418" stroke-width="1.2"/>
<circle cx="85.2" cy="612.3" r="1.42" fill="#fff" stroke="#cc2418" stroke-width="1.2"/>
<circle cx="84.7" cy="613.4" r="1.42" fill="#fff" stroke="#cc2418" stroke-width="1.2"/>
<circle cx="84.2" cy="614.5" r="1.42" fill="#fff" stroke="#cc2418" stroke-width="1.2"/>
<circle cx="83.7" cy="615.6" r="1.42" fill="#fff" stroke="#cc2418" stroke-width="1.2"/>
<circle cx="83.3" cy="616.7" r="1.42" fill="#fff" stroke="#cc2418" stroke-width="1.2"/>
<circle cx="82.9" cy="617.8" r="1.42" fill="#fff" stroke="#cc2418" stroke-width="1.2"/>
<circle cx="82.5" cy="618.9" r="1.42" fill="#fff" stroke="#cc2418" stroke-width="1.2"/>
<circle cx="82.2" cy="620.0" r="1.42" fill="#fff" stroke="#cc2418" stroke-width="1.2"/>
<circle cx="81.9" cy="621.1" r="1.42" fill="#fff" stroke="#cc2418" stroke-width="1.2"/>
<circle cx="81.6" cy="622.2" r="1.42" fill="#fff" stroke="#cc2418" stroke-width="1.2"/>
<circle cx="81.4" cy="623.3" r="1.42" fill="#fff" stroke="#cc2418" stroke-width="1.2"/>
<circle cx="81.2" cy="624.4" r="1.42" fill="#fff" stroke="#cc2418" stroke-width="1.2"/>
<circle cx="81.0" cy="625.5" r="1.42" fill="#fff" stroke="#cc2418" stroke-width="1.2"/>
<circle cx="80.9" cy="626.6" r="1.42" fill="#fff" stroke="#cc2418" stroke-width="1.2"/>
<circle cx="80.7" cy="627.7" r="1.42" fill="#fff" stroke="#cc2418" stroke-width="1.2"/>
<circle cx="80.7" cy="628.8" r="1.42" fill="#fff" stroke="#cc2418" stroke-width="1.2"/>
<circle cx="80.6" cy="629.9" r="1.42" fill="#fff" stroke="#cc2418" stroke-width="1.2"/>
<circle cx="80.6" cy="631.0" r="1.42" fill="#fff" stroke="#cc2418" stroke-width="1.2"/>
<circle cx="80.6" cy="632.1" r="1.42" fill="#fff" stroke="#cc2418" stroke-width="1.2"/>
<circle cx="80.7" cy="633.2" r="1.42" fill="#fff" stroke="#cc2418" stroke-width="1.2"/>
<circle cx="80.7" cy="634.3" r="1.42" fill="#fff" stroke="#cc2418" stroke-width="1.2"/>
<circle cx="80.9" cy="635.4" r="1.42" fill="#fff" stroke="#cc2418" stroke-width="1.2"/>
<circle cx="81.0" cy="636.5" r="1.42" fill="#fff" stroke="#cc2418" stroke-width="1.2"/>
<circle cx="81.2" cy="637.6" r="1.42" fill="#fff" stroke="#cc2418" stroke-width="1.2"/>
<circle cx="81.4" cy="638.7" r="1.42" fill="#fff" stroke="#cc2418" stroke-width="1.2"/>
<circle cx="81.6" cy="639.8" r="1.42" fill="#fff" stroke="#cc2418" stroke-width="1.2"/>
<circle cx="81.9" cy="640.9" r="1.42" fill="#fff" stroke="#cc2418" stroke-width="1.2"/>
<circle cx="82.2" cy="642.0" r="1.42" fill="#fff" stroke="#cc2418" stroke-width="1.2"/>
<circle cx="82.5" cy="643.1" r="1.42" fill="#fff" stroke="#cc2418" stroke-width="1.2"/>
<circle cx="82.9" cy="644.2" r="1.42" fill="#fff" stroke="#cc2418" stroke-width="1.2"/>
<circle cx="83.3" cy="645.3" r="1.42" fill="#fff" stroke="#cc2418" stroke-width="1.2"/>
<circle cx="83.7" cy="646.4" r="1.42" fill="#fff" stroke="#cc2418" stroke-width="1.2"/>
<circle cx="84.2" cy="647.5" r="1.42" fill="#fff" stroke="#cc2418" stroke-width="1.2"/>
<circle cx="84.7" cy="648.6" r="1.42" fill="#fff" stroke="#cc2418" stroke-width="1.2"/>
<circle cx="85.2" cy="649.7" r="1.42" fill="#fff" stroke="#cc2418" stroke-width="1.2"/>
<circle cx="91.6" cy="614.0" r="1.42" fill="#fff" stroke="#cc2418" stroke-width="1.2"/>
<circle cx="90.0" cy="618.0" r="1.42" fill="#fff" stroke="#cc2418" stroke-width="1.2"/>
<circle cx="89.0" cy="622.0" r="1.42" fill="#fff" stroke="#cc2418" stroke-width="1.2"/>
<circle cx="88.0" cy="626.4" r="1.42" fill="#fff" stroke="#cc2418" stroke-width="1.2"/>
<circle cx="87.6" cy="631.0" r="1.42" fill="#fff" stroke="#cc2418" stroke-width="1.2"/>
<circle cx="88.0" cy="635.0" r="1.42" fill="#fff" stroke="#cc2418" stroke-width="1.2"/>
<circle cx="89.0" cy="639.0" r="1.42" fill="#fff" stroke="#cc2418" stroke-width="1.2"/>
<circle cx="90.0" cy="643.0" r="1.42" fill="#fff" stroke="#cc2418" stroke-width="1.2"/>
<circle cx="91.6" cy="647.0" r="1.42" fill="#fff" stroke="#cc2418" stroke-width="1.2"/>
<circle cx="96.0" cy="617.0" r="1.42" fill="#fff" stroke="#cc2418" stroke-width="1.2"/>
<circle cx="95.0" cy="621.4" r="1.42" fill="#fff" stroke="#cc2418" stroke-width="1.2"/>
<circle cx="94.0" cy="626.0" r="1.42" fill="#fff" stroke="#cc2418" stroke-width="1.2"/>
<circle cx="93.6" cy="631.0" r="1.42" fill="#fff" stroke="#cc2418" stroke-width="1.2"/>
<circle cx="94.4" cy="635.4" r="1.42" fill="#fff" stroke="#cc2418" stroke-width="1.2"/>
<circle cx="95.6" cy="640.0" r="1.42" fill="#fff" stroke="#cc2418" stroke-width="1.2"/>
<circle cx="97.0" cy="645.0" r="1.42" fill="#fff" stroke="#cc2418" stroke-width="1.2"/>
<circle cx="99.0" cy="623.6" r="1.42" fill="#fff" stroke="#cc2418" stroke-width="1.2"/>
<circle cx="100.0" cy="628.6" r="1.42" fill="#fff" stroke="#cc2418" stroke-width="1.2"/>
<circle cx="99.6" cy="633.4" r="1.42" fill="#fff" stroke="#cc2418" stroke-width="1.2"/>
<circle cx="99.0" cy="638.0" r="1.42" fill="#fff" stroke="#cc2418" stroke-width="1.2"/>
<circle cx="104.0" cy="626.4" r="1.42" fill="#fff" stroke="#cc2418" stroke-width="1.2"/>
<circle cx="106.0" cy="631.0" r="1.42" fill="#fff" stroke="#cc2418" stroke-width="1.2"/>
<circle cx="104.4" cy="635.4" r="1.42" fill="#fff" stroke="#cc2418" stroke-width="1.2"/>
<circle cx="108.4" cy="628.6" r="1.42" fill="#fff" stroke="#cc2418" stroke-width="1.2"/>
<circle cx="112.0" cy="624.0" r="1.42" fill="#fff" stroke="#cc2418" stroke-width="1.2"/>
<circle cx="113.0" cy="631.0" r="1.42" fill="#fff" stroke="#cc2418" stroke-width="1.2"/>
<circle cx="111.6" cy="633.6" r="1.42" fill="#fff" stroke="#cc2418" stroke-width="1.2"/>
<circle cx="112.4" cy="638.0" r="1.42" fill="#fff" stroke="#cc2418" stroke-width="1.2"/>
<circle cx="131.6" cy="628.6" r="1.42" fill="#fff" stroke="#cc2418" stroke-width="1.2"/>
<circle cx="132.8" cy="633.4" r="1.42" fill="#fff" stroke="#cc2418" stroke-width="1.2"/>
<circle cx="142.6" cy="631.0" r="1.42" fill="#fff" stroke="#cc2418" stroke-width="1.2"/>
<circle cx="149.6" cy="631.0" r="1.42" fill="#fff" stroke="#cc2418" stroke-width="1.2"/>
<circle cx="188.4" cy="631.0" r="1.42" fill="#fff" stroke="#cc2418" stroke-width="1.2"/>
<circle cx="218.4" cy="631.0" r="1.42" fill="#fff" stroke="#cc2418" stroke-width="1.2"/>
<circle cx="243.0" cy="631.0" r="1.42" fill="#fff" stroke="#cc2418" stroke-width="1.2"/>
<path d="M290 572.5 H295.5 V631.5 H290" fill="none" stroke="#111" stroke-width="1"/>
<text x="300" y="607" font-size="11.5" text-anchor="middle" font-weight="bold" fill="#151515" stroke="#151515" stroke-width="0.32">*</text>
<text transform="translate(349.6 531.9) scale(1.17 1)" font-size="14.6" font-weight="bold" fill="#000" stroke="#000" stroke-width="0.5">G</text>
<line x1="388.5" y1="562.5" x2="388.5" y2="650.9" stroke="#151515" stroke-width="1.1"/>
<line x1="387.5" y1="650.5" x2="520" y2="650.5" stroke="#151515" stroke-width="1.1"/>
<line x1="385" y1="650.5" x2="388" y2="650.5" stroke="#151515" stroke-width="1"/>
<text x="385.2" y="654.0" font-size="9.4" text-anchor="end" font-weight="normal" fill="#151515" stroke="#151515" stroke-width="0.32">0</text>
<line x1="385" y1="633.5" x2="388" y2="633.5" stroke="#151515" stroke-width="1"/>
<text x="385.2" y="636.64" font-size="9.4" text-anchor="end" font-weight="normal" fill="#151515" stroke="#151515" stroke-width="0.32">200</text>
<line x1="385" y1="615.5" x2="388" y2="615.5" stroke="#151515" stroke-width="1"/>
<text x="385.2" y="619.28" font-size="9.4" text-anchor="end" font-weight="normal" fill="#151515" stroke="#151515" stroke-width="0.32">400</text>
<line x1="385" y1="598.5" x2="388" y2="598.5" stroke="#151515" stroke-width="1"/>
<text x="385.2" y="601.92" font-size="9.4" text-anchor="end" font-weight="normal" fill="#151515" stroke="#151515" stroke-width="0.32">600</text>
<line x1="385" y1="581.5" x2="388" y2="581.5" stroke="#151515" stroke-width="1"/>
<text x="385.2" y="584.5600000000001" font-size="9.4" text-anchor="end" font-weight="normal" fill="#151515" stroke="#151515" stroke-width="0.32">800</text>
<line x1="385" y1="563.5" x2="388" y2="563.5" stroke="#151515" stroke-width="1"/>
<text x="385.2" y="567.2" font-size="9.4" text-anchor="end" font-weight="normal" fill="#151515" stroke="#151515" stroke-width="0.32">1000</text>
<text x="358.4" y="601.6" font-size="9.4" text-anchor="middle" font-weight="normal" fill="#151515" stroke="#151515" stroke-width="0.32" transform="rotate(-90 358.4 601.6)">Δ lfp-rfp (µm)</text>
<path d="M405.5 531.7 V527.5 H503.5 V532.1" fill="none" stroke="#111" stroke-width="1"/>
<text x="455.7" y="529" font-size="13.5" text-anchor="middle" font-weight="bold" fill="#151515" stroke="#151515" stroke-width="0.25" letter-spacing="0.8">***</text>
<path d="M437.5 540.7 V537.5 H504.5 V542.5" fill="none" stroke="#111" stroke-width="1"/>
<text x="473.0" y="539.8" font-size="13.5" text-anchor="middle" font-weight="bold" fill="#151515" stroke="#151515" stroke-width="0.25" letter-spacing="0.8">**</text>
<path d="M403.5 553.5 V548.5 H469.5 V553.9" fill="none" stroke="#111" stroke-width="1"/>
<text x="437.29999999999995" y="553.4" font-size="13.5" text-anchor="middle" font-weight="bold" fill="#151515" stroke="#151515" stroke-width="0.25" letter-spacing="0.8">***</text>
<path d="M437.5 564.1 V559.5 H469.5 V564.3" fill="none" stroke="#111" stroke-width="1"/>
<text x="455.7" y="563.4" font-size="13.5" text-anchor="middle" font-weight="bold" fill="#151515" stroke="#151515" stroke-width="0.25" letter-spacing="0.8">***</text>
<circle cx="396.6" cy="645.4" r="1.8" fill="#fff" stroke="#666" stroke-width="0.9"/>
<circle cx="413.6" cy="646.8" r="1.8" fill="#fff" stroke="#666" stroke-width="0.9"/>
<circle cx="401" cy="648.2" r="1.3" fill="#333"/>
<circle cx="405" cy="649.6" r="1.3" fill="#333"/>
<circle cx="409" cy="649.4" r="1.3" fill="#333"/>
<line x1="398" y1="648.5" x2="412.4" y2="648.5" stroke="#151515" stroke-width="1.1"/>
<rect x="436.0" y="613.6" width="3.6" height="3.6" fill="#111"/>
<rect x="436.0" y="631.2" width="3.6" height="3.6" fill="#111"/>
<rect x="427.8" y="639.8" width="3.6" height="3.6" fill="#111"/>
<rect x="432.2" y="639.8" width="3.6" height="3.6" fill="#111"/>
<rect x="436.6" y="639.8" width="3.6" height="3.6" fill="#111"/>
<rect x="441.0" y="639.8" width="3.6" height="3.6" fill="#111"/>
<rect x="445.2" y="639.8" width="3.6" height="3.6" fill="#111"/>
<rect x="431.2" y="646.2" width="3.6" height="3.6" fill="#111"/>
<rect x="435.8" y="648.2" width="3.6" height="3.6" fill="#111"/>
<rect x="440.2" y="646.2" width="3.6" height="3.6" fill="#111"/>
<line x1="427" y1="640.5" x2="449" y2="640.5" stroke="#151515" stroke-width="1.1"/>
<line x1="432" y1="636.5" x2="443.5" y2="636.5" stroke="#151515" stroke-width="1"/>
<line x1="432" y1="644.5" x2="443.5" y2="644.5" stroke="#151515" stroke-width="1"/>
<line x1="437.5" y1="636.6" x2="437.5" y2="644" stroke="#151515" stroke-width="1"/>
<path d="M470.4 569.3 L472.4 573.1 L468.4 573.1 Z" fill="#c4201c"/>
<path d="M467.5 586.9 L469.5 590.7 L465.5 590.7 Z" fill="#c4201c"/>
<path d="M473.4 586.9 L475.4 590.7 L471.4 590.7 Z" fill="#c4201c"/>
<path d="M467.5 595.9 L469.5 599.7 L465.5 599.7 Z" fill="#c4201c"/>
<path d="M473.4 595.9 L475.4 599.7 L471.4 599.7 Z" fill="#c4201c"/>
<path d="M470.4 613.3 L472.4 617.1 L468.4 617.1 Z" fill="#c4201c"/>
<path d="M462.0 622.5 L464.0 626.3 L460.0 626.3 Z" fill="#c4201c"/>
<path d="M466.2 622.5 L468.2 626.3 L464.2 626.3 Z" fill="#c4201c"/>
<path d="M470.4 622.5 L472.4 626.3 L468.4 626.3 Z" fill="#c4201c"/>
<path d="M474.6 622.5 L476.6 626.3 L472.6 626.3 Z" fill="#c4201c"/>
<path d="M478.8 622.5 L480.8 626.3 L476.8 626.3 Z" fill="#c4201c"/>
<path d="M470.4 630.7 L472.4 634.5 L468.4 634.5 Z" fill="#c4201c"/>
<line x1="459.6" y1="609.5" x2="481.6" y2="609.5" stroke="#151515" stroke-width="1.1"/>
<line x1="464" y1="604.5" x2="476.4" y2="604.5" stroke="#151515" stroke-width="1"/>
<line x1="464" y1="615.5" x2="476.4" y2="615.5" stroke="#151515" stroke-width="1"/>
<line x1="470.5" y1="604" x2="470.5" y2="615.4" stroke="#151515" stroke-width="1"/>
<path d="M503.4 608.5 L505.4 604.7 L501.4 604.7 Z" fill="#2c2e7c"/>
<path d="M506.0 626.3 L508.0 622.5 L504.0 622.5 Z" fill="#2c2e7c"/>
<path d="M501.0 630.1 L503.0 626.3 L499.0 626.3 Z" fill="#2c2e7c"/>
<line x1="492.4" y1="618.5" x2="514.4" y2="618.5" stroke="#151515" stroke-width="1.1"/>
<line x1="497.6" y1="613.5" x2="509" y2="613.5" stroke="#151515" stroke-width="1"/>
<line x1="497.6" y1="623.5" x2="509" y2="623.5" stroke="#151515" stroke-width="1"/>
<line x1="503.5" y1="613.6" x2="503.5" y2="623.4" stroke="#151515" stroke-width="1"/>
<line x1="405.5" y1="650.4" x2="405.5" y2="653.4" stroke="#151515" stroke-width="1"/>
<text x="409.2" y="661" font-size="9.4" text-anchor="end" font-weight="normal" fill="#151515" stroke="#151515" stroke-width="0.32" transform="rotate(-45 409.2 661)">NSGAb<tspan dx="0.2" dy="-4.4" font-size="6.8">o</tspan><tspan dy="4.4" font-size="0.1"> </tspan></text>
<line x1="437.5" y1="650.4" x2="437.5" y2="653.4" stroke="#151515" stroke-width="1"/>
<text x="440.8" y="660.4" font-size="9.4" text-anchor="end" font-weight="normal" fill="#151515" stroke="#151515" stroke-width="0.32" transform="rotate(-45 440.8 660.4)">NSG</text>
<line x1="470.5" y1="650.4" x2="470.5" y2="653.4" stroke="#151515" stroke-width="1"/>
<text x="475.59999999999997" y="660" font-size="9.4" text-anchor="end" font-weight="normal" fill="#151515" stroke="#151515" stroke-width="0.32" transform="rotate(-45 475.59999999999997 660)">NSGAb<tspan dx="0.2" dy="-4.4" font-size="6.8">o</tspan><tspan dy="4.4" font-size="0.1"> </tspan><tspan dx="0.8">DR1</tspan></text>
<line x1="503.5" y1="650.4" x2="503.5" y2="653.4" stroke="#151515" stroke-width="1"/>
<text x="508.5" y="660" font-size="9.4" text-anchor="end" font-weight="normal" fill="#151515" stroke="#151515" stroke-width="0.32" transform="rotate(-45 508.5 660)">NSGAb<tspan dx="0.2" dy="-4.4" font-size="6.8">o</tspan><tspan dy="4.4" font-size="0.1"> </tspan><tspan dx="0.8">DR1</tspan></text>
<text x="518.4" y="667.6" font-size="9.3" text-anchor="end" font-weight="normal" fill="#151515" stroke="#151515" stroke-width="0.32" transform="rotate(-45 518.4 667.6)">(mismatched)</text>
</svg>
</body></html>
